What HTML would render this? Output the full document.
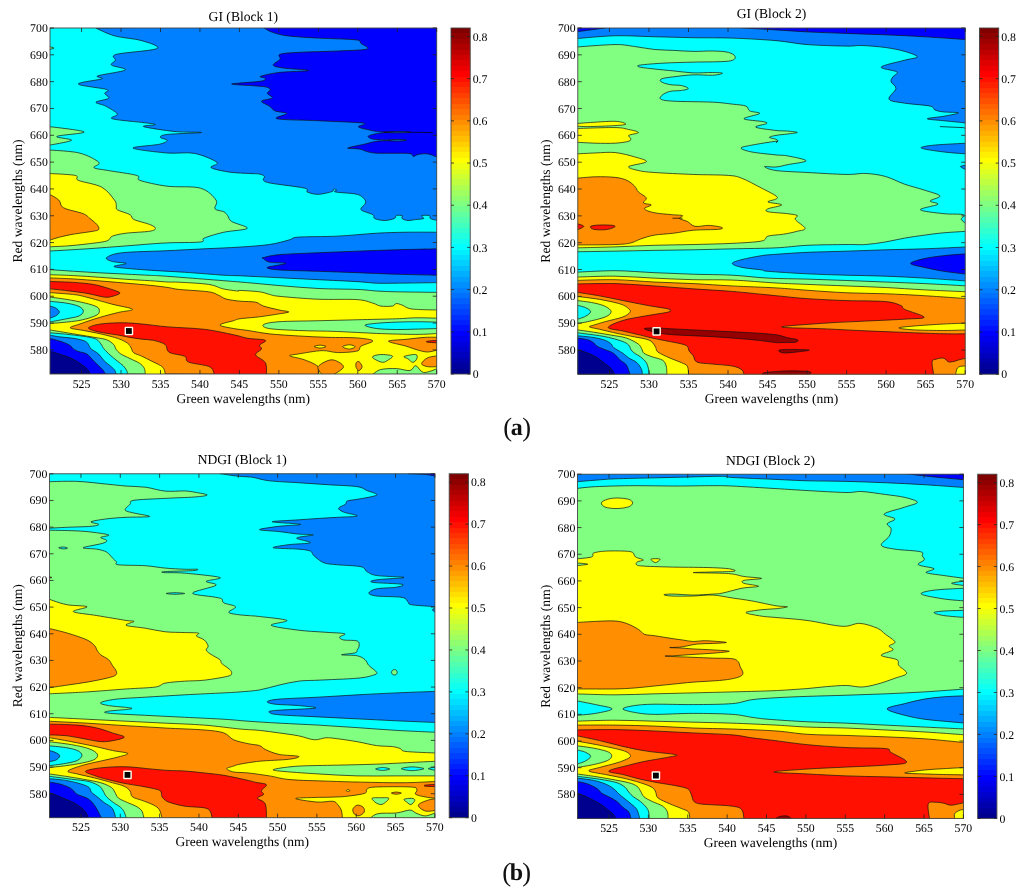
<!DOCTYPE html>
<html><head><meta charset="utf-8"><style>
html,body{margin:0;padding:0;background:#fff;width:1024px;height:891px;overflow:hidden;}
svg text{font-family:'Liberation Serif', serif;text-rendering:geometricPrecision;}
svg{filter:blur(0.45px);}
</style></head><body>
<svg width="1024" height="891" viewBox="0 0 1024 891" style="position:absolute;left:0;top:0"><defs><linearGradient id="jetgrad" x1="0" y1="1" x2="0" y2="0"><stop offset="0.00000" stop-color="#00008F"/><stop offset="0.01562" stop-color="#00008F"/><stop offset="0.01562" stop-color="#00009F"/><stop offset="0.03125" stop-color="#00009F"/><stop offset="0.03125" stop-color="#0000AF"/><stop offset="0.04688" stop-color="#0000AF"/><stop offset="0.04688" stop-color="#0000BF"/><stop offset="0.06250" stop-color="#0000BF"/><stop offset="0.06250" stop-color="#0000CF"/><stop offset="0.07812" stop-color="#0000CF"/><stop offset="0.07812" stop-color="#0000DF"/><stop offset="0.09375" stop-color="#0000DF"/><stop offset="0.09375" stop-color="#0000EF"/><stop offset="0.10938" stop-color="#0000EF"/><stop offset="0.10938" stop-color="#0000FF"/><stop offset="0.12500" stop-color="#0000FF"/><stop offset="0.12500" stop-color="#0010FF"/><stop offset="0.14062" stop-color="#0010FF"/><stop offset="0.14062" stop-color="#0020FF"/><stop offset="0.15625" stop-color="#0020FF"/><stop offset="0.15625" stop-color="#0030FF"/><stop offset="0.17188" stop-color="#0030FF"/><stop offset="0.17188" stop-color="#0040FF"/><stop offset="0.18750" stop-color="#0040FF"/><stop offset="0.18750" stop-color="#0050FF"/><stop offset="0.20312" stop-color="#0050FF"/><stop offset="0.20312" stop-color="#0060FF"/><stop offset="0.21875" stop-color="#0060FF"/><stop offset="0.21875" stop-color="#0070FF"/><stop offset="0.23438" stop-color="#0070FF"/><stop offset="0.23438" stop-color="#0080FF"/><stop offset="0.25000" stop-color="#0080FF"/><stop offset="0.25000" stop-color="#008FFF"/><stop offset="0.26562" stop-color="#008FFF"/><stop offset="0.26562" stop-color="#009FFF"/><stop offset="0.28125" stop-color="#009FFF"/><stop offset="0.28125" stop-color="#00AFFF"/><stop offset="0.29688" stop-color="#00AFFF"/><stop offset="0.29688" stop-color="#00BFFF"/><stop offset="0.31250" stop-color="#00BFFF"/><stop offset="0.31250" stop-color="#00CFFF"/><stop offset="0.32812" stop-color="#00CFFF"/><stop offset="0.32812" stop-color="#00DFFF"/><stop offset="0.34375" stop-color="#00DFFF"/><stop offset="0.34375" stop-color="#00EFFF"/><stop offset="0.35938" stop-color="#00EFFF"/><stop offset="0.35938" stop-color="#00FFFF"/><stop offset="0.37500" stop-color="#00FFFF"/><stop offset="0.37500" stop-color="#10FFEF"/><stop offset="0.39062" stop-color="#10FFEF"/><stop offset="0.39062" stop-color="#20FFDF"/><stop offset="0.40625" stop-color="#20FFDF"/><stop offset="0.40625" stop-color="#30FFCF"/><stop offset="0.42188" stop-color="#30FFCF"/><stop offset="0.42188" stop-color="#40FFBF"/><stop offset="0.43750" stop-color="#40FFBF"/><stop offset="0.43750" stop-color="#50FFAF"/><stop offset="0.45312" stop-color="#50FFAF"/><stop offset="0.45312" stop-color="#60FF9F"/><stop offset="0.46875" stop-color="#60FF9F"/><stop offset="0.46875" stop-color="#70FF8F"/><stop offset="0.48438" stop-color="#70FF8F"/><stop offset="0.48438" stop-color="#80FF80"/><stop offset="0.50000" stop-color="#80FF80"/><stop offset="0.50000" stop-color="#8FFF70"/><stop offset="0.51562" stop-color="#8FFF70"/><stop offset="0.51562" stop-color="#9FFF60"/><stop offset="0.53125" stop-color="#9FFF60"/><stop offset="0.53125" stop-color="#AFFF50"/><stop offset="0.54688" stop-color="#AFFF50"/><stop offset="0.54688" stop-color="#BFFF40"/><stop offset="0.56250" stop-color="#BFFF40"/><stop offset="0.56250" stop-color="#CFFF30"/><stop offset="0.57812" stop-color="#CFFF30"/><stop offset="0.57812" stop-color="#DFFF20"/><stop offset="0.59375" stop-color="#DFFF20"/><stop offset="0.59375" stop-color="#EFFF10"/><stop offset="0.60938" stop-color="#EFFF10"/><stop offset="0.60938" stop-color="#FFFF00"/><stop offset="0.62500" stop-color="#FFFF00"/><stop offset="0.62500" stop-color="#FFEF00"/><stop offset="0.64062" stop-color="#FFEF00"/><stop offset="0.64062" stop-color="#FFDF00"/><stop offset="0.65625" stop-color="#FFDF00"/><stop offset="0.65625" stop-color="#FFCF00"/><stop offset="0.67188" stop-color="#FFCF00"/><stop offset="0.67188" stop-color="#FFBF00"/><stop offset="0.68750" stop-color="#FFBF00"/><stop offset="0.68750" stop-color="#FFAF00"/><stop offset="0.70312" stop-color="#FFAF00"/><stop offset="0.70312" stop-color="#FF9F00"/><stop offset="0.71875" stop-color="#FF9F00"/><stop offset="0.71875" stop-color="#FF8F00"/><stop offset="0.73438" stop-color="#FF8F00"/><stop offset="0.73438" stop-color="#FF8000"/><stop offset="0.75000" stop-color="#FF8000"/><stop offset="0.75000" stop-color="#FF7000"/><stop offset="0.76562" stop-color="#FF7000"/><stop offset="0.76562" stop-color="#FF6000"/><stop offset="0.78125" stop-color="#FF6000"/><stop offset="0.78125" stop-color="#FF5000"/><stop offset="0.79688" stop-color="#FF5000"/><stop offset="0.79688" stop-color="#FF4000"/><stop offset="0.81250" stop-color="#FF4000"/><stop offset="0.81250" stop-color="#FF3000"/><stop offset="0.82812" stop-color="#FF3000"/><stop offset="0.82812" stop-color="#FF2000"/><stop offset="0.84375" stop-color="#FF2000"/><stop offset="0.84375" stop-color="#FF1000"/><stop offset="0.85938" stop-color="#FF1000"/><stop offset="0.85938" stop-color="#FF0000"/><stop offset="0.87500" stop-color="#FF0000"/><stop offset="0.87500" stop-color="#EF0000"/><stop offset="0.89062" stop-color="#EF0000"/><stop offset="0.89062" stop-color="#DF0000"/><stop offset="0.90625" stop-color="#DF0000"/><stop offset="0.90625" stop-color="#CF0000"/><stop offset="0.92188" stop-color="#CF0000"/><stop offset="0.92188" stop-color="#BF0000"/><stop offset="0.93750" stop-color="#BF0000"/><stop offset="0.93750" stop-color="#AF0000"/><stop offset="0.95312" stop-color="#AF0000"/><stop offset="0.95312" stop-color="#9F0000"/><stop offset="0.96875" stop-color="#9F0000"/><stop offset="0.96875" stop-color="#8F0000"/><stop offset="0.98438" stop-color="#8F0000"/><stop offset="0.98438" stop-color="#800000"/><stop offset="1.00000" stop-color="#800000"/></linearGradient></defs><defs><clipPath id="clip1"><rect x="50" y="28" width="386.70" height="346.00"/></clipPath></defs><g clip-path="url(#clip1)"><rect x="50" y="28" width="386.70" height="346.00" fill="#00FFFF"/><path d="M95.90,28.00C95.90,28.00 106.80,33.70 114.45,35.81C122.10,37.93 134.70,38.58 141.80,40.70C148.89,42.81 161.26,46.23 157.03,48.51C152.80,50.79 123.34,52.41 116.41,54.37C109.47,56.32 116.24,58.44 115.43,60.23C114.62,62.02 109.90,63.48 111.52,65.11C113.15,66.74 127.47,68.20 125.20,69.99C122.92,71.78 101.76,74.39 97.85,75.85C93.95,77.32 105.01,77.41 101.76,78.78C98.50,80.15 77.51,82.26 78.32,84.05C79.13,85.85 102.25,87.96 106.64,89.52C111.04,91.09 104.36,91.96 104.69,93.43C105.01,94.89 110.06,96.85 108.59,98.31C107.13,99.78 96.39,100.92 95.90,102.22C95.41,103.52 102.08,104.17 105.66,106.12C109.24,108.08 116.24,111.82 117.38,113.94C118.52,116.05 107.94,117.36 112.50,118.82C117.06,120.29 137.57,121.75 144.73,122.73C151.89,123.70 155.63,124.03 155.47,124.68C155.31,125.33 140.49,125.49 143.75,126.63C147.01,127.77 165.40,130.54 175.00,131.52C184.60,132.49 202.67,132.00 201.37,132.49C200.07,132.98 174.02,133.63 167.19,134.45C160.35,135.26 160.35,136.40 160.35,137.38C160.35,138.35 167.35,139.17 167.19,140.30C167.02,141.44 165.07,142.91 159.38,144.21C153.68,145.51 131.71,146.65 133.01,148.12C134.31,149.58 156.93,152.12 167.19,153.00C177.44,153.88 186.23,151.83 194.53,153.39C202.83,154.95 214.23,160.00 216.99,162.38C219.76,164.75 209.02,166.02 211.13,167.65C213.25,169.28 223.21,171.16 229.69,172.14C236.17,173.12 245.03,173.19 250.00,173.51C254.97,173.83 257.13,173.57 259.53,174.05C261.93,174.53 263.76,175.35 264.41,176.39C265.07,177.43 262.30,179.16 263.44,180.30C264.58,181.44 264.41,181.92 271.25,183.23C278.09,184.53 298.43,186.64 304.45,188.11C310.48,189.57 305.10,190.97 307.38,192.02C309.66,193.06 314.06,194.42 318.12,194.36C322.19,194.29 329.19,192.50 331.80,191.62C334.40,190.75 332.94,189.35 333.75,189.09C334.56,188.83 336.35,189.57 336.68,190.06C337.01,190.55 332.29,191.30 335.70,192.02C339.12,192.73 352.30,193.02 357.19,194.36C362.07,195.69 363.70,198.43 365.00,200.02C366.30,201.61 365.65,202.28 365.00,203.91C364.35,205.53 359.79,207.98 361.09,209.77C362.40,211.56 370.53,213.18 372.81,214.65C375.09,216.11 372.81,217.58 374.77,218.55C376.72,219.53 381.28,220.51 384.53,220.51C387.79,220.51 392.34,219.37 394.30,218.55C396.25,217.74 394.95,216.11 396.25,215.62C397.55,215.14 401.13,215.14 402.11,215.62C403.09,216.11 401.13,217.74 402.11,218.55C403.09,219.37 405.69,220.35 407.97,220.51C410.25,220.67 413.18,219.86 415.78,219.53C418.39,219.21 422.62,219.21 423.59,218.55C424.57,217.90 420.66,216.11 421.64,215.62C422.62,215.14 427.99,215.14 429.45,215.62C430.92,216.11 429.13,217.74 430.43,218.55C431.73,219.37 437.27,220.51 437.27,220.51C437.27,220.51 440.00,24.00 440.00,24.00C440.00,24.00 95.90,28.00 95.90,28.00Z" fill="#0080FF" stroke="#111" stroke-width="0.7" stroke-linejoin="round"/><path d="M264.41,27.95C264.41,27.95 267.51,30.56 271.25,31.86C274.99,33.16 279.06,34.72 286.88,35.77C294.69,36.81 310.31,37.62 318.12,38.11C325.94,38.60 327.24,38.37 333.75,38.70C340.26,39.02 352.63,39.25 357.19,40.06C361.74,40.88 359.47,42.08 361.09,43.58C362.72,45.08 370.86,47.81 366.95,49.05C363.05,50.28 349.05,50.45 337.66,51.00C326.26,51.55 308.20,51.81 298.59,52.37C288.99,52.92 283.13,53.18 280.04,54.32C276.95,55.46 281.18,57.41 280.04,59.20C278.90,60.99 272.71,63.60 273.20,65.06C273.69,66.53 277.11,67.08 282.97,67.99C288.83,68.90 309.01,69.78 308.36,70.53C307.71,71.28 287.04,71.51 279.06,72.48C271.09,73.46 262.79,75.41 260.51,76.39C258.23,77.37 265.23,77.56 265.39,78.34C265.55,79.12 265.72,80.30 261.48,81.08C257.25,81.86 244.98,82.54 240.00,83.03C235.02,83.52 231.60,83.68 231.60,84.01C231.60,84.33 234.69,84.56 240.00,84.98C245.31,85.41 258.39,85.80 263.44,86.55C268.48,87.30 269.62,88.34 270.27,89.48C270.92,90.62 267.02,91.98 267.34,93.38C267.67,94.78 273.20,96.57 272.23,97.88C271.25,99.18 261.97,99.83 261.48,101.20C261.00,102.56 267.02,104.45 269.30,106.08C271.58,107.71 272.23,109.72 275.16,110.96C278.09,112.20 286.55,112.20 286.88,113.50C287.20,114.80 271.90,117.57 277.11,118.77C282.32,119.98 304.45,120.08 318.12,120.73C331.80,121.38 351.43,122.11 359.14,122.68C366.86,123.25 364.51,123.43 364.41,124.16C364.32,124.90 356.93,125.95 358.55,127.09C360.18,128.23 369.95,130.18 374.18,131.00C378.41,131.81 377.92,131.76 383.95,131.97C389.97,132.18 410.31,132.15 410.31,132.27C410.31,132.38 390.78,132.10 383.95,132.66C377.11,133.21 371.58,134.64 369.30,135.59C367.02,136.53 368.65,137.62 370.27,138.32C371.90,139.02 373.20,139.43 379.06,139.79C384.92,140.14 405.43,140.26 405.43,140.47C405.43,140.68 385.90,140.44 379.06,141.05C372.23,141.67 369.62,143.01 364.41,144.18C359.21,145.35 348.63,147.27 347.81,148.09C347.00,148.90 355.14,148.25 359.53,149.06C363.93,149.88 366.04,152.24 374.18,152.97C382.32,153.70 401.85,152.89 408.36,153.46C414.87,154.03 411.61,156.22 413.24,156.39C414.87,156.55 415.68,154.84 418.12,154.43C420.57,154.03 424.47,153.38 427.89,153.95C431.31,154.51 438.63,157.85 438.63,157.85C438.63,157.85 440.00,24.00 440.00,24.00C440.00,24.00 260.00,24.00 260.00,24.00C260.00,24.00 264.41,27.95 264.41,27.95Z" fill="#0000FF" stroke="#111" stroke-width="0.7" stroke-linejoin="round"/><polyline points="410.3,132.3 432.8,132.5" fill="none" stroke="#000" stroke-width="0.7"/><path d="M388.83,140.08C390.13,139.88 395.66,139.57 398.59,139.59C401.52,139.61 406.41,139.93 406.41,140.18C406.41,140.42 401.20,140.96 398.59,141.05C395.99,141.15 392.41,140.92 390.78,140.76C389.15,140.60 387.53,140.27 388.83,140.08Z" fill="#0080FF" stroke="#111" stroke-width="0.7" stroke-linejoin="round"/><path d="M383.95,132.27C383.95,132.07 394.20,131.70 398.59,131.68C402.99,131.66 410.31,131.97 410.31,132.17C410.31,132.36 402.99,132.84 398.59,132.85C394.20,132.87 383.95,132.46 383.95,132.27Z" fill="#0080FF" stroke="#111" stroke-width="0.7" stroke-linejoin="round"/><path d="M49.02,46.55C49.02,46.55 53.91,47.63 53.91,48.12C53.91,48.61 49.02,49.48 49.02,49.48C49.02,49.48 49.02,46.55 49.02,46.55Z" fill="#80FF80" stroke="#111" stroke-width="0.7" stroke-linejoin="round"/><path d="M49.02,126.63C49.02,126.63 82.88,130.28 84.18,131.91C85.48,133.53 58.95,135.00 56.84,136.40C54.72,137.80 72.79,138.84 71.48,140.30C70.18,141.77 49.02,145.19 49.02,145.19C49.02,145.19 49.02,126.63 49.02,126.63Z" fill="#80FF80" stroke="#111" stroke-width="0.7" stroke-linejoin="round"/><path d="M49.02,150.07C49.02,150.07 71.00,150.95 79.30,153.00C87.60,155.05 96.39,159.93 98.83,162.38C101.27,164.82 92.32,166.28 93.95,167.65C95.57,169.02 101.43,169.28 108.59,170.58C115.76,171.88 131.71,173.83 136.91,175.46C142.12,177.09 134.80,178.55 139.84,180.34C144.89,182.13 157.10,184.90 167.19,186.20C177.28,187.51 192.25,185.85 200.39,188.16C208.53,190.47 213.58,196.63 216.02,200.07C218.45,203.51 213.70,206.85 214.99,208.79C216.29,210.73 221.67,210.58 223.78,211.72C225.90,212.86 226.39,214.00 227.69,215.62C228.99,217.25 228.34,219.37 231.59,221.48C234.85,223.60 248.52,226.53 247.22,228.32C245.92,230.11 230.94,230.60 223.78,232.23C216.62,233.85 208.16,236.46 204.25,238.09C200.34,239.71 206.85,241.18 200.34,241.99C193.83,242.81 177.56,242.32 165.19,242.97C152.82,243.62 139.15,244.92 126.12,245.90C113.10,246.88 100.25,247.95 87.06,248.83C73.88,249.71 47.02,251.17 47.02,251.17C47.02,251.17 49.02,150.07 49.02,150.07Z" fill="#80FF80" stroke="#111" stroke-width="0.7" stroke-linejoin="round"/><path d="M49.02,173.51C49.02,173.51 70.51,174.32 75.39,175.46C80.27,176.60 73.93,178.39 78.32,180.34C82.71,182.30 95.74,183.89 101.76,187.18C107.78,190.47 112.02,196.96 114.45,200.07C116.89,203.18 115.88,204.24 116.36,205.86C116.84,207.48 115.06,208.30 117.34,209.77C119.61,211.23 127.26,213.02 130.03,214.65C132.80,216.28 130.68,217.90 133.94,219.53C137.19,221.16 145.98,222.95 149.56,224.41C153.14,225.88 155.42,227.18 155.42,228.32C155.42,229.46 154.45,230.44 149.56,231.25C144.68,232.06 132.31,232.39 126.12,233.20C119.94,234.02 115.71,234.83 112.45,236.13C109.20,237.43 110.83,239.71 106.59,241.02C102.36,242.32 93.57,243.13 87.06,243.95C80.55,244.76 74.20,245.41 67.53,245.90C60.86,246.39 47.02,246.88 47.02,246.88C47.02,246.88 49.02,173.51 49.02,173.51Z" fill="#FFFF00" stroke="#111" stroke-width="0.7" stroke-linejoin="round"/><path d="M49.02,194.02C49.02,194.02 56.36,197.77 58.79,200.07C61.22,202.37 59.56,205.55 63.62,207.81C67.69,210.08 78.76,211.88 83.16,213.67C87.55,215.46 87.71,216.76 89.99,218.55C92.27,220.35 95.36,222.62 96.83,224.41C98.29,226.20 99.43,228.16 98.78,229.30C98.13,230.44 97.15,230.44 92.92,231.25C88.69,232.06 78.92,233.20 73.39,234.18C67.86,235.16 64.11,235.97 59.72,237.11C55.32,238.25 47.02,241.02 47.02,241.02C47.02,241.02 49.02,194.02 49.02,194.02Z" fill="#FF8F00" stroke="#111" stroke-width="0.7" stroke-linejoin="round"/><path d="M106.59,257.62C108.22,256.15 112.45,253.87 122.22,252.73C131.98,251.60 151.52,251.43 165.19,250.78C178.86,250.13 191.78,249.45 204.25,248.83C216.72,248.21 229.15,247.79 239.99,247.07C250.83,246.35 261.16,245.70 269.30,244.53C277.44,243.36 283.95,241.28 288.83,240.04C293.71,238.80 290.46,237.76 298.59,237.11C306.73,236.46 324.64,236.78 337.66,236.13C350.68,235.48 365.33,233.85 376.72,233.20C388.11,232.55 395.92,232.39 406.02,232.23C416.11,232.06 437.27,232.23 437.27,232.23C437.27,232.23 437.27,282.62 437.27,282.62C437.27,282.62 406.34,283.11 396.25,283.20C386.16,283.30 383.23,283.46 376.72,283.20C370.21,282.94 366.95,282.23 357.19,281.64C347.42,281.05 331.15,280.34 318.12,279.69C305.10,279.04 292.08,278.39 279.06,277.73C266.04,277.08 249.21,276.20 240.00,275.78C230.79,275.36 232.99,275.78 223.78,275.20C214.57,274.61 197.74,273.14 184.72,272.27C171.70,271.39 157.38,270.83 145.66,269.92C133.94,269.01 117.66,267.87 114.41,266.80C111.15,265.72 126.45,264.36 126.12,263.48C125.80,262.60 115.71,262.50 112.45,261.52C109.20,260.55 104.97,259.08 106.59,257.62Z" fill="#0080FF" stroke="#111" stroke-width="0.7" stroke-linejoin="round"/><path d="M263.44,257.62C266.04,256.97 269.95,255.50 279.06,254.69C288.18,253.87 305.10,253.32 318.12,252.73C331.15,252.15 344.17,251.66 357.19,251.17C370.21,250.68 382.90,250.20 396.25,249.80C409.60,249.41 437.27,248.83 437.27,248.83C437.27,248.83 437.27,275.20 437.27,275.20C437.27,275.20 409.60,274.64 396.25,274.22C382.90,273.80 370.21,273.14 357.19,272.66C344.17,272.17 331.15,271.74 318.12,271.29C305.10,270.83 287.53,270.57 279.06,269.92C270.60,269.27 266.20,268.46 267.34,267.38C268.48,266.31 285.57,264.36 285.90,263.48C286.22,262.60 273.04,262.92 269.30,262.11C265.55,261.30 264.41,259.34 263.44,258.59C262.46,257.85 260.83,258.27 263.44,257.62Z" fill="#0000FF" stroke="#111" stroke-width="0.7" stroke-linejoin="round"/><path d="M49.28,269.59C49.28,269.59 65.27,270.72 73.59,271.26C81.90,271.79 90.64,272.32 99.17,272.79C107.70,273.26 116.23,273.65 124.76,274.07C133.28,274.50 143.13,274.97 150.34,275.35C157.55,275.73 153.05,275.26 167.99,276.37C182.94,277.49 221.49,280.50 240.00,282.03C258.51,283.56 266.04,284.47 279.06,285.55C292.08,286.62 305.10,287.83 318.12,288.48C331.15,289.13 347.42,289.03 357.19,289.45C366.95,289.88 370.21,290.62 376.72,291.02C383.23,291.41 386.16,291.57 396.25,291.80C406.34,292.02 437.27,292.38 437.27,292.38C437.27,292.38 437.27,375.78 437.27,375.78C437.27,375.78 240.00,375.78 240.00,375.78C240.00,375.78 47.02,375.78 47.02,375.78C47.02,375.78 49.28,269.59 49.28,269.59Z" fill="#80FF80" stroke="#111" stroke-width="0.7" stroke-linejoin="round"/><path d="M49.28,274.71C49.28,274.71 65.27,275.18 73.59,275.61C81.90,276.03 90.64,276.67 99.17,277.27C107.70,277.87 116.23,278.61 124.76,279.19C133.28,279.76 143.13,280.25 150.34,280.72C157.55,281.19 163.18,281.75 167.99,282.00C172.81,282.25 172.49,281.83 179.25,282.23C186.01,282.62 201.22,283.27 208.55,284.38C215.87,285.48 218.31,287.76 223.20,288.87C228.08,289.97 235.04,290.76 237.84,291.02C240.64,291.28 236.39,290.30 240.00,290.43C243.61,290.56 254.65,291.15 259.53,291.80C264.41,292.45 266.04,293.59 269.30,294.34C272.55,295.08 270.92,295.48 279.06,296.29C287.20,297.10 305.10,298.67 318.12,299.22C331.15,299.77 348.07,298.96 357.19,299.61C366.30,300.26 368.91,302.05 372.81,303.12C376.72,304.20 377.37,305.57 380.62,306.05C383.88,306.54 389.74,306.48 392.34,306.05C394.95,305.63 394.62,303.68 396.25,303.52C397.88,303.35 399.51,304.17 402.11,305.08C404.71,305.99 406.02,308.17 411.88,308.98C417.73,309.80 437.27,309.96 437.27,309.96C437.27,309.96 437.27,375.78 437.27,375.78C437.27,375.78 240.00,375.78 240.00,375.78C240.00,375.78 47.02,375.78 47.02,375.78C47.02,375.78 49.28,274.71 49.28,274.71Z" fill="#FFFF00" stroke="#111" stroke-width="0.7" stroke-linejoin="round"/><path d="M49.28,277.91C49.28,277.91 65.27,278.44 73.59,278.93C81.90,279.42 90.64,280.17 99.17,280.85C107.70,281.53 116.23,282.28 124.76,283.03C133.28,283.77 143.13,284.58 150.34,285.33C157.55,286.08 163.18,286.82 167.99,287.50C172.81,288.19 172.49,288.74 179.25,289.45C186.01,290.17 201.97,290.82 208.55,291.80C215.12,292.77 215.77,294.11 218.70,295.31C221.63,296.52 222.58,298.05 226.12,299.02C229.67,300.00 235.08,300.65 239.99,301.17C244.91,301.69 251.72,301.33 255.62,302.15C259.53,302.96 259.53,304.75 263.44,306.05C267.34,307.36 274.83,308.98 279.06,309.96C283.29,310.94 288.83,311.26 288.83,311.91C288.83,312.57 283.95,313.05 279.06,313.87C274.18,314.68 266.04,315.98 259.53,316.80C253.02,317.61 244.33,318.10 240.00,318.75C235.67,319.40 236.90,319.66 233.55,320.70C230.19,321.74 219.88,323.70 219.88,325.00C219.88,326.30 228.86,327.60 233.55,328.52C238.23,329.43 242.04,329.58 248.00,330.47C253.96,331.35 260.86,332.91 269.30,333.83C277.73,334.75 288.83,335.39 298.59,335.98C308.36,336.56 318.12,337.02 327.89,337.34C337.66,337.67 349.70,337.34 357.19,337.93C364.67,338.52 372.16,339.49 372.81,340.86C373.46,342.23 363.70,344.44 361.09,346.13C358.49,347.83 361.09,349.94 357.19,351.02C353.28,352.09 343.52,352.64 337.66,352.58C331.80,352.51 328.54,350.40 322.03,350.62C315.52,350.85 303.96,353.07 298.59,353.95C293.22,354.82 288.83,354.92 289.80,355.90C290.78,356.88 299.73,358.01 304.45,359.80C309.17,361.60 315.85,364.20 318.12,366.64C320.40,369.08 318.12,374.45 318.12,374.45C318.12,374.45 165.19,374.00 165.19,374.00C165.19,374.00 164.80,370.49 164.02,369.08C163.24,367.67 162.65,366.93 160.50,365.56C158.36,364.20 154.25,362.44 151.13,360.88C148.00,359.31 144.68,357.56 141.75,356.19C138.82,354.82 135.31,354.04 133.55,352.67C131.79,351.31 132.18,349.55 131.21,347.99C130.23,346.42 129.84,344.86 127.69,343.30C125.54,341.74 122.81,340.17 118.32,338.61C113.82,337.05 106.60,335.29 100.74,333.92C94.88,332.56 88.24,331.42 83.16,330.41C78.08,329.39 70.80,328.90 70.27,327.83C69.74,326.75 75.16,325.67 79.98,323.96C84.80,322.25 92.77,319.49 99.17,317.57C105.57,315.65 112.82,313.84 118.36,312.45C123.90,311.06 133.50,310.64 132.43,309.25C131.37,307.87 119.64,306.16 111.96,304.13C104.29,302.11 92.77,298.70 86.38,297.10C79.98,295.50 79.77,295.29 73.59,294.54C67.40,293.79 49.28,292.62 49.28,292.62C49.28,292.62 49.28,277.91 49.28,277.91Z" fill="#FF8F00" stroke="#111" stroke-width="0.7" stroke-linejoin="round"/><path d="M49.28,281.49C49.28,281.49 66.34,281.92 73.59,282.39C80.83,282.86 87.44,283.45 92.77,284.31C98.10,285.16 101.52,286.33 105.57,287.50C109.62,288.68 114.73,290.34 117.08,291.34C119.43,292.34 120.49,292.66 119.64,293.52C118.79,294.37 114.52,295.86 111.96,296.46C109.40,297.06 108.55,297.63 104.29,297.10C100.02,296.57 92.56,294.33 86.38,293.26C80.19,292.19 73.37,291.45 67.19,290.70C61.01,289.96 49.28,288.78 49.28,288.78C49.28,288.78 49.28,281.49 49.28,281.49Z" fill="#FF1000" stroke="#111" stroke-width="0.7" stroke-linejoin="round"/><path d="M88.43,328.06C88.43,327.09 91.85,325.91 94.88,325.13C97.90,324.35 101.71,323.77 106.60,323.38C111.48,322.98 118.32,322.69 124.17,322.79C130.03,322.89 134.45,323.28 141.75,323.96C149.06,324.64 157.59,326.00 168.00,326.89C178.42,327.78 193.33,327.98 204.25,329.30C215.17,330.61 226.25,333.26 233.55,334.77C240.84,336.27 242.70,337.40 248.01,338.32C253.32,339.24 263.47,339.13 265.39,340.27C267.31,341.41 260.18,343.69 259.53,345.16C258.88,346.62 262.14,347.43 261.48,349.06C260.83,350.69 254.97,352.64 255.62,354.92C256.28,357.20 263.60,359.48 265.39,362.73C267.18,365.99 266.37,374.45 266.37,374.45C266.37,374.45 214.02,375.78 214.02,375.78C214.02,375.78 214.34,369.27 210.11,366.99C205.88,364.71 192.86,363.90 188.62,362.11C184.39,360.32 187.97,357.88 184.72,356.25C181.46,354.62 172.35,354.30 169.09,352.34C165.84,350.39 167.79,346.53 165.19,344.53C162.58,342.54 157.38,341.26 153.47,340.37C149.57,339.48 145.66,339.68 141.75,339.20C137.85,338.71 133.94,338.12 130.03,337.44C126.13,336.75 122.22,335.78 118.32,335.09C114.41,334.41 110.50,334.02 106.60,333.34C102.69,332.65 97.90,331.87 94.88,330.99C91.85,330.11 88.43,329.04 88.43,328.06Z" fill="#FF1000" stroke="#111" stroke-width="0.7" stroke-linejoin="round"/><path d="M49.41,297.07C49.41,297.07 60.80,298.40 66.85,299.43C72.90,300.45 80.67,301.94 85.70,303.20C90.73,304.45 94.73,305.63 97.01,306.97C99.29,308.30 99.52,309.79 99.37,311.21C99.21,312.62 99.13,313.96 96.07,315.45C93.00,316.94 86.64,318.98 80.99,320.16C75.33,321.34 67.40,321.97 62.14,322.52C56.88,323.07 49.41,323.46 49.41,323.46C49.41,323.46 49.41,297.07 49.41,297.07Z" fill="#80FF80" stroke="#111" stroke-width="0.7" stroke-linejoin="round"/><path d="M49.41,301.31C49.41,301.31 61.90,302.33 66.85,303.20C71.80,304.06 76.35,305.16 79.10,306.49C81.85,307.83 83.34,309.64 83.34,311.21C83.34,312.78 81.85,314.66 79.10,315.92C76.35,317.18 71.80,317.73 66.85,318.75C61.90,319.77 49.41,322.05 49.41,322.05C49.41,322.05 49.41,301.31 49.41,301.31Z" fill="#00FFFF" stroke="#111" stroke-width="0.7" stroke-linejoin="round"/><path d="M49.41,306.02C49.41,306.02 53.89,306.97 55.54,307.91C57.19,308.85 59.15,310.42 59.31,311.68C59.47,312.93 58.13,314.35 56.48,315.45C54.83,316.55 49.41,318.28 49.41,318.28C49.41,318.28 49.41,306.02 49.41,306.02Z" fill="#0080FF" stroke="#111" stroke-width="0.7" stroke-linejoin="round"/><path d="M49.17,329.82C49.17,329.82 55.03,330.80 59.72,331.58C64.41,332.36 71.44,333.53 77.30,334.51C83.16,335.49 89.99,336.56 94.88,337.44C99.76,338.32 103.47,338.61 106.60,339.78C109.72,340.95 112.07,342.91 113.63,344.47C115.19,346.03 114.80,347.60 115.97,349.16C117.14,350.72 118.32,352.28 120.66,353.85C123.00,355.41 126.91,356.97 130.03,358.53C133.16,360.10 137.07,361.66 139.41,363.22C141.75,364.78 143.12,366.11 144.10,367.91C145.07,369.71 145.27,374.00 145.27,374.00C145.27,374.00 49.17,374.00 49.17,374.00C49.17,374.00 49.17,329.82 49.17,329.82Z" fill="#80FF80" stroke="#111" stroke-width="0.7" stroke-linejoin="round"/><path d="M49.17,332.75C49.17,332.75 59.91,333.57 65.58,334.16C71.24,334.74 78.27,335.52 83.16,336.27C88.04,337.01 92.14,337.63 94.88,338.61C97.61,339.59 98.39,340.95 99.56,342.13C100.74,343.30 101.13,344.47 101.91,345.64C102.69,346.81 102.88,347.60 104.25,349.16C105.62,350.72 107.96,353.06 110.11,355.02C112.26,356.97 114.99,359.12 117.14,360.88C119.29,362.63 121.44,364.00 123.00,365.56C124.57,367.13 125.74,368.85 126.52,370.25C127.30,371.66 127.69,374.00 127.69,374.00C127.69,374.00 49.17,374.00 49.17,374.00C49.17,374.00 49.17,332.75 49.17,332.75Z" fill="#00FFFF" stroke="#111" stroke-width="0.7" stroke-linejoin="round"/><path d="M49.17,335.09C49.17,335.09 56.01,336.36 59.72,336.85C63.43,337.34 67.92,337.54 71.44,338.02C74.95,338.51 78.27,339.10 80.81,339.78C83.35,340.47 85.31,341.15 86.67,342.13C88.04,343.10 88.24,344.47 89.02,345.64C89.80,346.81 89.80,347.79 91.36,349.16C92.92,350.52 96.24,351.89 98.39,353.85C100.54,355.80 102.10,358.73 104.25,360.88C106.40,363.03 109.53,365.17 111.28,366.74C113.04,368.30 114.02,369.04 114.80,370.25C115.58,371.46 115.97,374.00 115.97,374.00C115.97,374.00 49.17,374.00 49.17,374.00C49.17,374.00 49.17,335.09 49.17,335.09Z" fill="#0080FF" stroke="#111" stroke-width="0.7" stroke-linejoin="round"/><path d="M49.17,338.38C49.17,338.38 52.49,339.06 55.03,339.78C57.57,340.50 61.87,341.74 64.41,342.71C66.95,343.69 68.70,344.57 70.27,345.64C71.83,346.72 72.42,348.18 73.78,349.16C75.15,350.13 76.32,350.72 78.47,351.50C80.62,352.28 84.33,352.48 86.67,353.85C89.02,355.21 90.58,357.75 92.53,359.70C94.49,361.66 96.63,363.81 98.39,365.56C100.15,367.32 101.91,368.85 103.08,370.25C104.25,371.66 105.42,374.00 105.42,374.00C105.42,374.00 49.17,374.00 49.17,374.00C49.17,374.00 49.17,338.38 49.17,338.38Z" fill="#0000FF" stroke="#111" stroke-width="0.7" stroke-linejoin="round"/><path d="M49.17,351.27C49.17,351.27 52.88,352.05 55.03,352.67C57.18,353.30 59.72,354.24 62.06,355.02C64.41,355.80 66.75,356.38 69.09,357.36C71.44,358.34 73.78,359.51 76.13,360.88C78.47,362.24 81.20,364.10 83.16,365.56C85.11,367.03 86.67,368.26 87.85,369.67C89.02,371.07 90.19,374.00 90.19,374.00C90.19,374.00 49.17,374.00 49.17,374.00C49.17,374.00 49.17,351.27 49.17,351.27Z" fill="#00008F" stroke="#111" stroke-width="0.7" stroke-linejoin="round"/><path d="M263.44,324.65C265.07,323.51 269.95,322.37 279.06,321.72C288.18,321.07 305.10,321.07 318.12,320.74C331.15,320.42 344.17,320.09 357.19,319.77C370.21,319.44 386.48,319.11 396.25,318.79C406.02,318.46 408.95,317.91 415.78,317.81C422.62,317.71 437.27,318.20 437.27,318.20C437.27,318.20 437.27,333.44 437.27,333.44C437.27,333.44 425.87,334.41 415.78,334.41C405.69,334.41 389.74,333.93 376.72,333.44C363.70,332.95 350.68,331.97 337.66,331.48C324.64,331.00 309.99,331.00 298.59,330.51C287.20,330.02 275.16,329.53 269.30,328.55C263.44,327.58 261.81,325.79 263.44,324.65Z" fill="#80FF80" stroke="#111" stroke-width="0.7" stroke-linejoin="round"/><path d="M365.00,325.23C365.00,324.36 371.51,323.80 376.72,323.28C381.93,322.76 389.74,322.37 396.25,322.11C402.76,321.85 408.95,321.72 415.78,321.72C422.62,321.72 437.27,322.11 437.27,322.11C437.27,322.11 437.27,328.55 437.27,328.55C437.27,328.55 422.62,328.98 415.78,329.14C408.95,329.30 402.76,329.63 396.25,329.53C389.74,329.43 381.93,329.27 376.72,328.55C371.51,327.84 365.00,326.11 365.00,325.23Z" fill="#00FFFF" stroke="#111" stroke-width="0.7" stroke-linejoin="round"/><path d="M388.44,341.25C388.44,340.11 399.83,339.95 406.02,339.30C412.20,338.65 420.34,337.67 425.55,337.34C430.76,337.02 437.27,337.34 437.27,337.34C437.27,337.34 437.27,350.04 437.27,350.04C437.27,350.04 430.76,351.99 427.50,351.99C424.24,351.99 421.32,351.02 417.73,350.04C414.15,349.06 410.90,347.60 406.02,346.13C401.13,344.67 388.44,342.39 388.44,341.25Z" fill="#FF8F00" stroke="#111" stroke-width="0.7" stroke-linejoin="round"/><path d="M421.64,363.71C421.64,362.25 424.90,359.15 427.50,357.85C430.10,356.55 437.27,355.90 437.27,355.90C437.27,355.90 437.27,366.64 437.27,366.64C437.27,366.64 430.10,367.13 427.50,366.64C424.90,366.15 421.64,365.18 421.64,363.71Z" fill="#FF8F00" stroke="#111" stroke-width="0.7" stroke-linejoin="round"/><path d="M318.12,366.64C319.75,364.20 327.57,359.80 331.80,359.80C336.03,359.80 343.19,364.20 343.52,366.64C343.84,369.08 333.75,374.45 333.75,374.45C333.75,374.45 322.03,374.45 322.03,374.45C322.03,374.45 316.50,369.08 318.12,366.64Z" fill="#FF8F00" stroke="#111" stroke-width="0.7" stroke-linejoin="round"/><path d="M356.21,362.73C356.70,361.76 358.16,361.11 359.14,361.76C360.12,362.41 362.07,365.18 362.07,366.64C362.07,368.11 360.12,370.38 359.14,370.55C358.16,370.71 356.70,368.92 356.21,367.62C355.72,366.32 355.72,363.71 356.21,362.73Z" fill="#FF8F00" stroke="#111" stroke-width="0.7" stroke-linejoin="round"/><path d="M314.22,346.52C314.22,346.04 318.12,345.16 320.08,345.16C322.03,345.16 325.94,346.04 325.94,346.52C325.94,347.01 322.03,348.09 320.08,348.09C318.12,348.09 314.22,347.01 314.22,346.52Z" fill="#FFFF00" stroke="#111" stroke-width="0.7" stroke-linejoin="round"/><path d="M342.54,346.72C342.54,346.00 347.26,344.77 349.38,344.77C351.49,344.77 355.23,346.00 355.23,346.72C355.23,347.43 351.49,349.06 349.38,349.06C347.26,349.06 342.54,347.43 342.54,346.72Z" fill="#FFFF00" stroke="#111" stroke-width="0.7" stroke-linejoin="round"/><path d="M372.81,356.48C373.79,355.70 377.37,354.63 380.62,354.53C383.88,354.43 391.04,355.02 392.34,355.90C393.65,356.78 390.07,358.73 388.44,359.80C386.81,360.88 384.86,362.44 382.58,362.34C380.30,362.25 376.39,360.20 374.77,359.22C373.14,358.24 371.84,357.27 372.81,356.48Z" fill="#80FF80" stroke="#111" stroke-width="0.7" stroke-linejoin="round"/><path d="M404.06,356.48C405.36,355.77 413.67,354.14 415.78,354.53C417.90,354.92 417.25,357.53 416.76,358.83C416.27,360.13 414.32,362.34 412.85,362.34C411.39,362.34 409.43,359.80 407.97,358.83C406.50,357.85 402.76,357.20 404.06,356.48Z" fill="#80FF80" stroke="#111" stroke-width="0.7" stroke-linejoin="round"/><path d="M372.81,374.45C372.81,374.45 376.72,370.55 380.62,369.57C384.53,368.59 391.37,368.43 396.25,368.59C401.13,368.76 406.67,371.04 409.92,370.55C413.18,370.06 413.50,365.34 415.78,365.66C418.06,365.99 420.01,372.01 423.59,372.50C427.17,372.99 437.27,368.59 437.27,368.59C437.27,368.59 437.27,374.45 437.27,374.45C437.27,374.45 372.81,374.45 372.81,374.45Z" fill="#80FF80" stroke="#111" stroke-width="0.7" stroke-linejoin="round"/><path d="M427.50,341.25C429.13,340.92 437.27,340.27 437.27,340.27C437.27,340.27 437.27,342.81 437.27,342.81C437.27,342.81 429.13,342.49 427.50,342.23C425.87,341.97 425.87,341.58 427.50,341.25Z" fill="#FF1000" stroke="#111" stroke-width="0.7" stroke-linejoin="round"/></g><rect x="50" y="28" width="386.70" height="346.00" fill="none" stroke="#444" stroke-width="0.9"/><line x1="81.57" y1="374.0" x2="81.57" y2="370.0" stroke="#222" stroke-width="0.8"/><line x1="81.57" y1="28" x2="81.57" y2="32" stroke="#222" stroke-width="0.8"/><text x="81.57" y="388.00" font-size="11.8" text-anchor="middle" fill="#000">525</text><line x1="121.03" y1="374.0" x2="121.03" y2="370.0" stroke="#222" stroke-width="0.8"/><line x1="121.03" y1="28" x2="121.03" y2="32" stroke="#222" stroke-width="0.8"/><text x="121.03" y="388.00" font-size="11.8" text-anchor="middle" fill="#000">530</text><line x1="160.49" y1="374.0" x2="160.49" y2="370.0" stroke="#222" stroke-width="0.8"/><line x1="160.49" y1="28" x2="160.49" y2="32" stroke="#222" stroke-width="0.8"/><text x="160.49" y="388.00" font-size="11.8" text-anchor="middle" fill="#000">535</text><line x1="199.94" y1="374.0" x2="199.94" y2="370.0" stroke="#222" stroke-width="0.8"/><line x1="199.94" y1="28" x2="199.94" y2="32" stroke="#222" stroke-width="0.8"/><text x="199.94" y="388.00" font-size="11.8" text-anchor="middle" fill="#000">540</text><line x1="239.40" y1="374.0" x2="239.40" y2="370.0" stroke="#222" stroke-width="0.8"/><line x1="239.40" y1="28" x2="239.40" y2="32" stroke="#222" stroke-width="0.8"/><text x="239.40" y="388.00" font-size="11.8" text-anchor="middle" fill="#000">545</text><line x1="278.86" y1="374.0" x2="278.86" y2="370.0" stroke="#222" stroke-width="0.8"/><line x1="278.86" y1="28" x2="278.86" y2="32" stroke="#222" stroke-width="0.8"/><text x="278.86" y="388.00" font-size="11.8" text-anchor="middle" fill="#000">550</text><line x1="318.32" y1="374.0" x2="318.32" y2="370.0" stroke="#222" stroke-width="0.8"/><line x1="318.32" y1="28" x2="318.32" y2="32" stroke="#222" stroke-width="0.8"/><text x="318.32" y="388.00" font-size="11.8" text-anchor="middle" fill="#000">555</text><line x1="357.78" y1="374.0" x2="357.78" y2="370.0" stroke="#222" stroke-width="0.8"/><line x1="357.78" y1="28" x2="357.78" y2="32" stroke="#222" stroke-width="0.8"/><text x="357.78" y="388.00" font-size="11.8" text-anchor="middle" fill="#000">560</text><line x1="397.24" y1="374.0" x2="397.24" y2="370.0" stroke="#222" stroke-width="0.8"/><line x1="397.24" y1="28" x2="397.24" y2="32" stroke="#222" stroke-width="0.8"/><text x="397.24" y="388.00" font-size="11.8" text-anchor="middle" fill="#000">565</text><line x1="436.70" y1="374.0" x2="436.70" y2="370.0" stroke="#222" stroke-width="0.8"/><line x1="436.70" y1="28" x2="436.70" y2="32" stroke="#222" stroke-width="0.8"/><text x="436.70" y="388.00" font-size="11.8" text-anchor="middle" fill="#000">570</text><line x1="50" y1="349.86" x2="54" y2="349.86" stroke="#222" stroke-width="0.8"/><line x1="436.7" y1="349.86" x2="432.7" y2="349.86" stroke="#222" stroke-width="0.8"/><text x="47.80" y="353.86" font-size="11.8" text-anchor="end" fill="#000">580</text><line x1="50" y1="323.04" x2="54" y2="323.04" stroke="#222" stroke-width="0.8"/><line x1="436.7" y1="323.04" x2="432.7" y2="323.04" stroke="#222" stroke-width="0.8"/><text x="47.80" y="327.04" font-size="11.8" text-anchor="end" fill="#000">590</text><line x1="50" y1="296.22" x2="54" y2="296.22" stroke="#222" stroke-width="0.8"/><line x1="436.7" y1="296.22" x2="432.7" y2="296.22" stroke="#222" stroke-width="0.8"/><text x="47.80" y="300.22" font-size="11.8" text-anchor="end" fill="#000">600</text><line x1="50" y1="269.40" x2="54" y2="269.40" stroke="#222" stroke-width="0.8"/><line x1="436.7" y1="269.40" x2="432.7" y2="269.40" stroke="#222" stroke-width="0.8"/><text x="47.80" y="273.40" font-size="11.8" text-anchor="end" fill="#000">610</text><line x1="50" y1="242.57" x2="54" y2="242.57" stroke="#222" stroke-width="0.8"/><line x1="436.7" y1="242.57" x2="432.7" y2="242.57" stroke="#222" stroke-width="0.8"/><text x="47.80" y="246.57" font-size="11.8" text-anchor="end" fill="#000">620</text><line x1="50" y1="215.75" x2="54" y2="215.75" stroke="#222" stroke-width="0.8"/><line x1="436.7" y1="215.75" x2="432.7" y2="215.75" stroke="#222" stroke-width="0.8"/><text x="47.80" y="219.75" font-size="11.8" text-anchor="end" fill="#000">630</text><line x1="50" y1="188.93" x2="54" y2="188.93" stroke="#222" stroke-width="0.8"/><line x1="436.7" y1="188.93" x2="432.7" y2="188.93" stroke="#222" stroke-width="0.8"/><text x="47.80" y="192.93" font-size="11.8" text-anchor="end" fill="#000">640</text><line x1="50" y1="162.11" x2="54" y2="162.11" stroke="#222" stroke-width="0.8"/><line x1="436.7" y1="162.11" x2="432.7" y2="162.11" stroke="#222" stroke-width="0.8"/><text x="47.80" y="166.11" font-size="11.8" text-anchor="end" fill="#000">650</text><line x1="50" y1="135.29" x2="54" y2="135.29" stroke="#222" stroke-width="0.8"/><line x1="436.7" y1="135.29" x2="432.7" y2="135.29" stroke="#222" stroke-width="0.8"/><text x="47.80" y="139.29" font-size="11.8" text-anchor="end" fill="#000">660</text><line x1="50" y1="108.47" x2="54" y2="108.47" stroke="#222" stroke-width="0.8"/><line x1="436.7" y1="108.47" x2="432.7" y2="108.47" stroke="#222" stroke-width="0.8"/><text x="47.80" y="112.47" font-size="11.8" text-anchor="end" fill="#000">670</text><line x1="50" y1="81.64" x2="54" y2="81.64" stroke="#222" stroke-width="0.8"/><line x1="436.7" y1="81.64" x2="432.7" y2="81.64" stroke="#222" stroke-width="0.8"/><text x="47.80" y="85.64" font-size="11.8" text-anchor="end" fill="#000">680</text><line x1="50" y1="54.82" x2="54" y2="54.82" stroke="#222" stroke-width="0.8"/><line x1="436.7" y1="54.82" x2="432.7" y2="54.82" stroke="#222" stroke-width="0.8"/><text x="47.80" y="58.82" font-size="11.8" text-anchor="end" fill="#000">690</text><line x1="50" y1="28.00" x2="54" y2="28.00" stroke="#222" stroke-width="0.8"/><line x1="436.7" y1="28.00" x2="432.7" y2="28.00" stroke="#222" stroke-width="0.8"/><text x="47.80" y="32.00" font-size="11.8" text-anchor="end" fill="#000">700</text><text x="243.35" y="20.80" font-size="13.6" text-anchor="middle" fill="#000">GI (Block 1)</text><text x="243.35" y="402.50" font-size="13.5" text-anchor="middle" fill="#000">Green wavelengths (nm)</text><text x="0" y="0" transform="translate(22.00,201.00) rotate(-90)" font-size="13.6" text-anchor="middle" fill="#000">Red wavelengths (nm)</text><rect x="451.00" y="28" width="19.20" height="346.00" fill="url(#jetgrad)"/><rect x="451.00" y="28" width="19.20" height="346.00" fill="none" stroke="#444" stroke-width="0.9"/><line x1="451.00" y1="374.00" x2="454.00" y2="374.00" stroke="#222" stroke-width="0.8"/><line x1="470.20" y1="374.00" x2="467.20" y2="374.00" stroke="#222" stroke-width="0.8"/><text x="472.70" y="378.10" font-size="11.8" fill="#000">0</text><line x1="451.00" y1="331.80" x2="454.00" y2="331.80" stroke="#222" stroke-width="0.8"/><line x1="470.20" y1="331.80" x2="467.20" y2="331.80" stroke="#222" stroke-width="0.8"/><text x="472.70" y="335.90" font-size="11.8" fill="#000">0.1</text><line x1="451.00" y1="289.61" x2="454.00" y2="289.61" stroke="#222" stroke-width="0.8"/><line x1="470.20" y1="289.61" x2="467.20" y2="289.61" stroke="#222" stroke-width="0.8"/><text x="472.70" y="293.71" font-size="11.8" fill="#000">0.2</text><line x1="451.00" y1="247.41" x2="454.00" y2="247.41" stroke="#222" stroke-width="0.8"/><line x1="470.20" y1="247.41" x2="467.20" y2="247.41" stroke="#222" stroke-width="0.8"/><text x="472.70" y="251.51" font-size="11.8" fill="#000">0.3</text><line x1="451.00" y1="205.22" x2="454.00" y2="205.22" stroke="#222" stroke-width="0.8"/><line x1="470.20" y1="205.22" x2="467.20" y2="205.22" stroke="#222" stroke-width="0.8"/><text x="472.70" y="209.32" font-size="11.8" fill="#000">0.4</text><line x1="451.00" y1="163.02" x2="454.00" y2="163.02" stroke="#222" stroke-width="0.8"/><line x1="470.20" y1="163.02" x2="467.20" y2="163.02" stroke="#222" stroke-width="0.8"/><text x="472.70" y="167.12" font-size="11.8" fill="#000">0.5</text><line x1="451.00" y1="120.83" x2="454.00" y2="120.83" stroke="#222" stroke-width="0.8"/><line x1="470.20" y1="120.83" x2="467.20" y2="120.83" stroke="#222" stroke-width="0.8"/><text x="472.70" y="124.93" font-size="11.8" fill="#000">0.6</text><line x1="451.00" y1="78.63" x2="454.00" y2="78.63" stroke="#222" stroke-width="0.8"/><line x1="470.20" y1="78.63" x2="467.20" y2="78.63" stroke="#222" stroke-width="0.8"/><text x="472.70" y="82.73" font-size="11.8" fill="#000">0.7</text><line x1="451.00" y1="36.44" x2="454.00" y2="36.44" stroke="#222" stroke-width="0.8"/><line x1="470.20" y1="36.44" x2="467.20" y2="36.44" stroke="#222" stroke-width="0.8"/><text x="472.70" y="40.54" font-size="11.8" fill="#000">0.8</text><rect x="124.60" y="326.70" width="8.6" height="8.6" rx="1" fill="#FFFFF2"/><rect x="126.00" y="328.10" width="5.8" height="5.8" fill="#000"/><defs><clipPath id="clip2"><rect x="577.8" y="28" width="387.40" height="346.20"/></clipPath></defs><g clip-path="url(#clip2)"><rect x="577.8" y="28" width="387.40" height="346.20" fill="#80FF80"/><path d="M576.00,26.00C576.00,26.00 576.00,47.09 576.00,47.09C576.00,47.09 605.30,44.65 615.06,44.55C624.83,44.46 628.08,45.69 634.59,46.51C641.10,47.32 647.61,48.79 654.12,49.44C660.64,50.09 667.15,50.09 673.66,50.41C680.17,50.74 686.68,51.29 693.19,51.39C699.70,51.49 706.86,50.84 712.72,51.00C718.58,51.16 724.60,51.39 728.34,52.37C732.09,53.34 735.18,55.39 735.18,56.86C735.18,58.32 735.34,60.28 728.34,61.16C721.35,62.04 703.93,61.81 693.19,62.13C682.45,62.46 672.68,62.62 663.89,63.11C655.10,63.60 644.52,64.41 640.45,65.06C636.38,65.71 637.20,66.36 639.48,67.02C641.76,67.67 648.43,68.32 654.12,68.97C659.82,69.62 667.15,70.27 673.66,70.92C680.17,71.57 686.68,72.61 693.19,72.88C699.70,73.14 707.84,72.42 712.72,72.48C717.60,72.55 722.48,72.81 722.48,73.27C722.48,73.72 717.60,74.96 712.72,75.22C707.84,75.48 699.70,74.57 693.19,74.83C686.68,75.09 678.86,76.13 673.66,76.78C668.45,77.43 664.05,77.92 661.94,78.73C659.82,79.55 659.66,80.69 660.96,81.66C662.26,82.64 666.33,83.94 669.75,84.59C673.17,85.24 678.38,84.92 681.47,85.57C684.56,86.22 688.30,87.69 688.30,88.50C688.30,89.31 684.56,89.96 681.47,90.45C678.38,90.94 673.01,90.62 669.75,91.43C666.49,92.24 663.40,94.03 661.94,95.34C660.47,96.64 659.01,98.27 660.96,99.24C662.91,100.22 665.03,100.71 673.66,101.20C682.28,101.68 702.95,101.68 712.72,102.17C722.48,102.66 726.72,103.47 732.25,104.12C737.78,104.78 742.99,104.94 745.92,106.08C748.85,107.22 747.55,109.72 749.83,110.96C752.11,112.20 760.57,112.20 759.59,113.50C758.62,114.80 743.32,117.41 743.97,118.77C744.62,120.14 759.76,120.89 763.50,121.70C767.24,122.52 767.73,122.74 766.43,123.66C765.13,124.57 754.09,126.03 755.69,127.17C757.28,128.31 770.69,129.84 776.00,130.49C781.31,131.14 783.98,130.75 787.53,131.08C791.08,131.40 797.30,131.96 797.30,132.45C797.30,132.93 791.08,133.52 787.53,134.01C783.98,134.50 779.04,134.82 776.01,135.38C772.98,135.93 769.36,136.68 769.36,137.33C769.36,137.98 774.61,138.70 776.01,139.28C777.41,139.87 777.77,140.32 777.77,140.84C777.77,141.36 776.30,142.34 776.01,142.41C775.71,142.47 780.04,140.78 776.00,141.23C771.96,141.69 757.61,144.00 751.78,145.14C745.95,146.28 741.04,146.93 741.04,148.07C741.04,149.21 745.95,150.84 751.78,151.98C757.61,153.12 770.04,154.26 776.00,154.91C781.96,155.56 782.52,154.91 787.53,155.88C792.55,156.86 806.09,159.30 806.09,160.77C806.09,162.23 792.54,163.63 787.53,164.67C782.52,165.71 779.85,166.69 776.01,167.02C772.17,167.34 764.48,166.04 764.48,166.62C764.48,167.21 768.90,169.55 776.00,170.53C783.10,171.51 795.38,171.83 807.06,172.48C818.75,173.14 836.36,174.27 846.12,174.44C855.89,174.60 859.15,173.14 865.66,173.46C872.17,173.79 878.68,174.60 885.19,176.39C891.70,178.18 898.21,181.92 904.72,184.20C911.23,186.48 918.39,188.11 924.25,190.06C930.11,192.02 938.90,194.10 939.88,195.92C940.85,197.74 930.43,199.58 930.11,200.98C929.78,202.37 939.55,202.83 937.92,204.30C936.29,205.76 919.37,208.20 920.34,209.77C921.32,211.33 936.62,212.86 943.78,213.67C950.94,214.49 960.38,213.67 963.31,214.65C966.24,215.62 960.71,217.90 961.36,219.53C962.01,221.16 967.22,224.41 967.22,224.41C967.22,224.41 970.00,20.00 970.00,20.00C970.00,20.00 576.00,26.00 576.00,26.00Z" fill="#00FFFF" stroke="#111" stroke-width="0.7" stroke-linejoin="round"/><path d="M576.00,26.00C576.00,26.00 576.00,38.70 576.00,38.70C576.00,38.70 602.04,36.09 615.06,35.77C628.08,35.44 641.10,36.42 654.12,36.74C667.15,37.07 680.17,37.49 693.19,37.72C706.21,37.95 718.45,37.62 732.25,38.11C746.05,38.60 763.53,39.57 776.00,40.65C788.47,41.72 795.38,43.64 807.06,44.55C818.75,45.47 837.01,45.95 846.12,46.12C855.24,46.28 855.24,45.30 861.75,45.53C868.26,45.76 878.03,46.51 885.19,47.48C892.35,48.46 899.35,49.83 904.72,51.39C910.09,52.95 917.41,55.39 917.41,56.86C917.41,58.32 910.74,58.49 904.72,60.18C898.70,61.87 882.58,65.06 881.28,67.02C879.98,68.97 894.95,70.27 896.91,71.90C898.86,73.53 893.98,75.15 893.00,76.78C892.02,78.41 890.56,79.71 891.05,81.66C891.54,83.62 896.26,85.57 895.93,88.50C895.60,91.43 887.63,96.80 889.09,99.24C890.56,101.68 897.88,102.01 904.72,103.15C911.55,104.29 925.06,104.94 930.11,106.08C935.15,107.22 932.71,109.01 934.99,109.98C937.27,110.96 939.88,111.45 943.78,111.94C947.69,112.43 958.43,112.20 958.43,112.91C958.43,113.63 948.99,115.26 943.78,116.23C938.57,117.21 927.18,118.02 927.18,118.77C927.18,119.52 937.76,120.08 943.78,120.73C949.80,121.38 959.41,122.19 963.31,122.68C967.22,123.17 967.22,123.66 967.22,123.66C967.22,123.66 970.00,20.00 970.00,20.00C970.00,20.00 576.00,26.00 576.00,26.00Z" fill="#0080FF" stroke="#111" stroke-width="0.7" stroke-linejoin="round"/><polyline points="939.9,126.6 963.3,127.6 966.2,128.5" fill="none" stroke="#000" stroke-width="0.7"/><path d="M921.32,148.07C919.69,146.93 926.37,145.95 934.02,145.14C941.67,144.33 967.22,143.19 967.22,143.19C967.22,143.19 967.22,153.93 967.22,153.93C967.22,153.93 951.43,152.95 943.78,151.98C936.13,151.00 922.95,149.21 921.32,148.07Z" fill="#0080FF" stroke="#111" stroke-width="0.7" stroke-linejoin="round"/><path d="M960.38,166.62C960.38,165.78 967.22,165.06 967.22,165.06C967.22,165.06 967.22,170.14 967.22,170.14C967.22,170.14 960.38,167.47 960.38,166.62Z" fill="#0080FF" stroke="#111" stroke-width="0.7" stroke-linejoin="round"/><path d="M742.02,26.00C742.02,26.00 742.02,27.95 742.02,27.95C742.02,27.95 765.16,29.26 776.00,29.91C786.84,30.56 795.38,31.27 807.06,31.86C818.75,32.45 833.10,32.93 846.12,33.42C859.15,33.91 872.17,34.24 885.19,34.79C898.21,35.34 910.58,35.93 924.25,36.74C937.92,37.56 967.22,39.67 967.22,39.67C967.22,39.67 967.22,26.00 967.22,26.00C967.22,26.00 742.02,26.00 742.02,26.00Z" fill="#0000FF" stroke="#111" stroke-width="0.7" stroke-linejoin="round"/><path d="M576.00,26.00C576.00,26.00 605.30,27.95 605.30,27.95C605.30,27.95 576.00,31.86 576.00,31.86C576.00,31.86 576.00,26.00 576.00,26.00Z" fill="#0000FF" stroke="#111" stroke-width="0.7" stroke-linejoin="round"/><path d="M576.00,123.66C576.00,123.66 581.21,123.07 587.72,122.68C594.23,122.29 608.71,121.08 615.06,121.31C621.41,121.54 625.80,123.33 625.80,124.05C625.80,124.76 621.41,125.19 615.06,125.61C608.71,126.03 594.23,126.52 587.72,126.59C581.21,126.65 576.00,126.00 576.00,126.00C576.00,126.00 576.00,123.66 576.00,123.66Z" fill="#FFFF00" stroke="#111" stroke-width="0.7" stroke-linejoin="round"/><path d="M576.00,128.54C576.00,128.54 606.27,127.40 615.06,127.56C623.85,127.73 624.83,128.70 628.73,129.52C632.64,130.33 638.50,131.47 638.50,132.45C638.50,133.42 630.04,134.40 628.73,135.38C627.43,136.35 630.69,137.33 630.69,138.30C630.69,139.28 631.34,140.42 628.73,141.23C626.13,142.05 620.60,142.86 615.06,143.19C609.53,143.51 602.04,143.35 595.53,143.19C589.02,143.02 576.00,142.21 576.00,142.21C576.00,142.21 576.00,128.54 576.00,128.54Z" fill="#FFFF00" stroke="#111" stroke-width="0.7" stroke-linejoin="round"/><path d="M576.00,153.93C576.00,153.93 589.02,153.18 595.53,152.95C602.04,152.73 608.55,151.91 615.06,152.56C621.57,153.21 629.39,155.33 634.59,156.86C639.80,158.39 647.29,160.11 646.31,161.74C645.34,163.37 630.04,165.16 628.73,166.62C627.43,168.09 634.27,169.55 638.50,170.53C642.73,171.51 645.01,171.83 654.12,172.48C663.24,173.14 680.82,173.95 693.19,174.44C705.56,174.93 720.21,174.76 728.34,175.41C736.48,176.07 736.48,176.23 742.02,178.34C747.55,180.46 755.88,185.18 761.55,188.11C767.21,191.04 773.59,194.10 776.00,195.92C778.41,197.74 777.34,198.02 776.01,199.02C774.67,200.03 767.06,200.98 768.00,201.95C768.94,202.93 781.67,203.74 781.67,204.88C781.67,206.02 770.28,207.65 768.00,208.79C765.72,209.93 764.74,210.90 768.00,211.72C771.26,212.53 782.65,213.02 787.53,213.67C792.41,214.32 795.99,214.65 797.30,215.62C798.60,216.60 794.04,217.42 795.34,219.53C796.65,221.65 804.78,226.37 805.11,228.32C805.43,230.27 800.88,230.27 797.30,231.25C793.72,232.23 788.51,233.37 783.62,234.18C778.74,234.99 771.68,234.99 768.00,236.13C764.32,237.27 767.51,239.81 761.55,241.02C755.59,242.22 743.64,242.77 732.25,243.36C720.86,243.95 706.21,244.21 693.19,244.53C680.17,244.86 667.15,244.92 654.12,245.31C641.10,245.70 628.08,246.45 615.06,246.88C602.04,247.30 576.00,247.85 576.00,247.85C576.00,247.85 576.00,153.93 576.00,153.93Z" fill="#FFFF00" stroke="#111" stroke-width="0.7" stroke-linejoin="round"/><path d="M576.00,178.34C576.00,178.34 589.02,176.94 595.53,176.78C602.04,176.62 609.85,176.78 615.06,177.37C620.27,177.95 623.53,178.83 626.78,180.30C630.04,181.76 632.64,184.20 634.59,186.16C636.55,188.11 636.55,190.06 638.50,192.02C640.45,193.97 645.50,196.06 646.31,197.88C647.13,199.69 642.57,201.76 643.38,202.93C644.20,204.10 651.03,203.91 651.20,204.88C651.36,205.86 643.87,207.49 644.36,208.79C644.85,210.09 649.57,211.72 654.12,212.70C658.68,213.67 666.98,214.16 671.70,214.65C676.42,215.14 681.14,214.97 682.45,215.62C683.75,216.28 678.70,217.58 679.52,218.55C680.33,219.53 684.72,220.18 687.33,221.48C689.93,222.79 691.56,225.72 695.14,226.37C698.72,227.02 704.42,225.23 708.81,225.39C713.21,225.55 719.88,226.69 721.51,227.34C723.14,227.99 723.30,228.81 718.58,229.30C713.86,229.79 700.67,229.62 693.19,230.27C685.70,230.92 680.17,232.39 673.66,233.20C667.15,234.02 659.66,234.18 654.12,235.16C648.59,236.13 644.36,237.76 640.45,239.06C636.55,240.36 634.92,242.06 630.69,242.97C626.46,243.88 624.18,244.21 615.06,244.53C605.95,244.86 576.00,244.92 576.00,244.92C576.00,244.92 576.00,178.34 576.00,178.34Z" fill="#FF8F00" stroke="#111" stroke-width="0.7" stroke-linejoin="round"/><path d="M576.00,223.44C576.00,223.44 583.81,225.23 583.81,226.37C583.81,227.51 576.00,230.27 576.00,230.27C576.00,230.27 576.00,223.44 576.00,223.44Z" fill="#FF1000" stroke="#111" stroke-width="0.7" stroke-linejoin="round"/><polyline points="672.5,218.2 682.5,218.2" fill="none" stroke="#000" stroke-width="0.7"/><path d="M590.65,226.37C591.62,225.65 595.69,225.16 599.44,225.00C603.18,224.84 610.67,225.00 613.11,225.39C615.55,225.78 615.39,226.63 614.09,227.34C612.78,228.06 608.71,229.36 605.30,229.69C601.88,230.01 596.02,229.85 593.58,229.30C591.14,228.74 589.67,227.08 590.65,226.37Z" fill="#FF1000" stroke="#111" stroke-width="0.7" stroke-linejoin="round"/><path d="M576.00,251.76C576.00,251.76 602.04,251.40 615.06,251.17C628.08,250.94 641.10,250.62 654.12,250.39C667.15,250.16 680.17,250.07 693.19,249.80C706.21,249.54 718.45,249.15 732.25,248.83C746.05,248.50 763.53,248.44 776.00,247.85C788.47,247.27 795.38,245.87 807.06,245.31C818.75,244.76 836.36,244.66 846.12,244.53C855.89,244.40 859.15,244.95 865.66,244.53C872.17,244.11 878.68,243.07 885.19,241.99C891.70,240.92 898.21,239.23 904.72,238.09C911.23,236.95 917.74,236.04 924.25,235.16C930.76,234.28 936.62,233.46 943.78,232.81C950.94,232.16 967.22,231.25 967.22,231.25C967.22,231.25 967.22,285.94 967.22,285.94C967.22,285.94 937.92,284.24 924.25,283.59C910.58,282.94 898.21,282.55 885.19,282.03C872.17,281.51 859.15,280.96 846.12,280.47C833.10,279.98 820.08,279.49 807.06,279.10C794.04,278.71 780.47,278.78 768.00,278.12C755.53,277.47 744.72,275.85 732.25,275.20C719.78,274.54 706.21,274.64 693.19,274.22C680.17,273.80 667.15,273.24 654.12,272.66C641.10,272.07 628.08,270.77 615.06,270.70C602.04,270.64 576.00,272.27 576.00,272.27C576.00,272.27 576.00,251.76 576.00,251.76Z" fill="#00FFFF" stroke="#111" stroke-width="0.7" stroke-linejoin="round"/><path d="M732.25,263.48C732.25,262.17 737.13,260.87 742.02,259.57C746.90,258.27 755.88,256.54 761.55,255.66C767.21,254.79 768.41,254.85 776.00,254.30C783.59,253.74 795.38,252.86 807.06,252.34C818.75,251.82 833.10,251.60 846.12,251.17C859.15,250.75 872.17,250.20 885.19,249.80C898.21,249.41 910.58,249.32 924.25,248.83C937.92,248.34 967.22,246.88 967.22,246.88C967.22,246.88 967.22,281.05 967.22,281.05C967.22,281.05 937.92,278.94 924.25,278.12C910.58,277.31 898.21,276.66 885.19,276.17C872.17,275.68 859.15,275.59 846.12,275.20C833.10,274.80 820.08,274.48 807.06,273.83C794.04,273.18 775.59,271.94 768.00,271.29C760.41,270.64 765.88,270.57 761.55,269.92C757.22,269.27 746.90,268.46 742.02,267.38C737.13,266.31 732.25,264.78 732.25,263.48Z" fill="#0080FF" stroke="#111" stroke-width="0.7" stroke-linejoin="round"/><path d="M910.58,263.48C910.58,262.01 918.72,259.90 924.25,258.59C929.78,257.29 936.62,256.48 943.78,255.66C950.94,254.85 967.22,253.71 967.22,253.71C967.22,253.71 967.22,274.22 967.22,274.22C967.22,274.22 950.94,272.43 943.78,271.29C936.62,270.15 929.78,268.68 924.25,267.38C918.72,266.08 910.58,264.94 910.58,263.48Z" fill="#0000FF" stroke="#111" stroke-width="0.7" stroke-linejoin="round"/><path d="M576.00,277.15C576.00,277.15 602.04,276.01 615.06,276.17C628.08,276.33 641.10,277.54 654.12,278.12C667.15,278.71 680.17,279.36 693.19,279.69C706.21,280.01 718.45,279.52 732.25,280.08C746.05,280.63 763.53,282.29 776.00,283.01C788.47,283.72 795.38,283.89 807.06,284.38C818.75,284.86 833.10,285.42 846.12,285.94C859.15,286.46 872.17,286.85 885.19,287.50C898.21,288.15 910.58,289.13 924.25,289.84C937.92,290.56 967.22,291.80 967.22,291.80C967.22,291.80 967.22,375.78 967.22,375.78C967.22,375.78 576.00,375.78 576.00,375.78C576.00,375.78 576.00,277.15 576.00,277.15Z" fill="#FFFF00" stroke="#111" stroke-width="0.7" stroke-linejoin="round"/><path d="M576.00,280.47C576.00,280.47 602.04,279.43 615.06,279.69C628.08,279.95 641.10,281.38 654.12,282.03C667.15,282.68 680.17,282.94 693.19,283.59C706.21,284.24 718.45,285.22 732.25,285.94C746.05,286.65 763.53,287.17 776.00,287.89C788.47,288.61 795.38,289.42 807.06,290.23C818.75,291.05 833.10,292.19 846.12,292.77C859.15,293.36 872.17,293.26 885.19,293.75C898.21,294.24 910.58,294.89 924.25,295.70C937.92,296.52 967.22,298.63 967.22,298.63C967.22,298.63 967.22,375.78 967.22,375.78C967.22,375.78 688.50,374.38 688.50,374.38C688.50,374.38 688.50,368.13 687.33,366.17C686.16,364.22 684.40,364.03 681.47,362.66C678.54,361.29 673.66,359.73 669.75,357.97C665.85,356.21 660.38,353.87 658.03,352.11C655.69,350.35 656.67,349.08 655.69,347.42C654.71,345.76 653.74,343.52 652.17,342.15C650.61,340.78 649.25,340.10 646.32,339.22C643.39,338.34 639.48,337.85 634.60,336.88C629.71,335.90 622.88,334.63 617.02,333.36C611.16,332.09 604.03,330.33 599.44,329.26C594.85,328.19 590.45,327.60 589.48,326.92C588.50,326.23 590.94,326.04 593.58,325.16C596.22,324.28 600.42,323.01 605.30,321.64C610.18,320.27 618.78,318.52 622.88,316.95C626.98,315.39 628.93,313.63 629.91,312.27C630.88,310.90 630.30,310.12 628.74,308.75C627.17,307.38 625.42,305.63 620.53,304.06C615.65,302.50 606.67,300.64 599.44,299.38C592.21,298.11 577.17,296.45 577.17,296.45C577.17,296.45 576.00,280.47 576.00,280.47Z" fill="#FF8F00" stroke="#111" stroke-width="0.7" stroke-linejoin="round"/><path d="M576.00,283.98C576.00,283.98 602.04,283.27 615.06,283.59C628.08,283.92 641.10,285.06 654.12,285.94C667.15,286.82 680.17,287.96 693.19,288.87C706.21,289.78 718.45,290.27 732.25,291.41C746.05,292.55 763.53,294.50 776.00,295.70C788.47,296.91 795.38,297.82 807.06,298.63C818.75,299.45 833.10,300.10 846.12,300.59C859.15,301.07 876.07,300.75 885.19,301.56C894.30,302.38 897.56,304.17 900.81,305.47C904.07,306.77 900.81,307.42 904.72,309.38C908.62,311.33 924.25,315.56 924.25,317.19C924.25,318.82 914.48,318.49 904.72,319.14C894.95,319.79 878.68,320.44 865.66,321.09C852.64,321.74 840.59,322.07 826.59,323.05C812.60,324.02 781.67,325.98 781.67,326.95C781.67,327.93 812.60,328.26 826.59,328.91C840.59,329.56 852.64,330.27 865.66,330.86C878.68,331.45 891.70,331.93 904.72,332.42C917.74,332.91 933.36,333.56 943.78,333.79C954.20,334.02 967.22,333.79 967.22,333.79C967.22,333.79 967.22,375.78 967.22,375.78C967.22,375.78 743.97,375.78 743.97,375.78C743.97,375.78 743.97,371.55 742.02,369.92C740.06,368.29 737.13,366.99 732.25,366.02C727.37,365.04 718.58,364.71 712.72,364.06C706.86,363.41 700.35,363.52 697.09,362.11C693.84,360.70 694.53,357.49 693.19,355.63C691.86,353.77 690.07,352.50 689.09,350.94C688.11,349.38 688.60,347.42 687.33,346.25C686.06,345.08 684.40,344.69 681.47,343.91C678.54,343.13 674.64,342.54 669.75,341.56C664.87,340.59 657.06,339.12 652.17,338.05C647.29,336.97 645.34,336.29 640.46,335.12C635.57,333.95 628.25,332.29 622.88,331.02C617.51,329.75 608.23,329.26 608.23,327.50C608.23,325.74 616.53,322.42 622.88,320.47C629.22,318.52 638.89,317.15 646.32,315.78C653.74,314.42 663.41,313.15 667.41,312.27C671.41,311.39 670.34,311.09 670.34,310.51C670.34,309.92 671.41,309.63 667.41,308.75C663.41,307.87 653.74,306.60 646.32,305.23C638.89,303.87 630.69,302.11 622.88,300.55C615.06,298.98 607.06,297.23 599.44,295.86C591.82,294.49 577.17,292.34 577.17,292.34C577.17,292.34 576.00,283.98 576.00,283.98Z" fill="#FF1000" stroke="#111" stroke-width="0.7" stroke-linejoin="round"/><path d="M644.36,328.91C643.71,328.09 649.24,327.93 654.12,327.93C659.01,327.93 663.89,328.42 673.66,328.91C683.42,329.39 699.70,330.21 712.72,330.86C725.74,331.51 741.23,332.16 751.78,332.81C762.33,333.46 770.04,333.95 776.00,334.77C781.96,335.58 783.98,336.88 787.53,337.70C791.08,338.51 795.99,338.90 797.30,339.65C798.60,340.40 798.27,341.70 795.34,342.19C792.41,342.68 782.94,342.51 779.72,342.58C776.49,342.64 780.66,343.07 776.00,342.58C771.34,342.09 762.33,340.62 751.78,339.65C741.23,338.67 725.74,337.53 712.72,336.72C699.70,335.90 682.77,335.42 673.66,334.77C664.54,334.11 662.91,333.79 658.03,332.81C653.15,331.84 645.01,329.72 644.36,328.91Z" fill="#960000" stroke="#111" stroke-width="0.7" stroke-linejoin="round"/><path d="M778.74,350.39C779.39,349.80 782.49,349.48 787.53,349.41C792.58,349.35 807.39,349.58 809.02,350.00C810.64,350.42 801.53,351.46 797.30,351.95C793.07,352.44 786.72,353.19 783.62,352.93C780.53,352.67 778.09,350.98 778.74,350.39Z" fill="#960000" stroke="#111" stroke-width="0.7" stroke-linejoin="round"/><path d="M764.09,372.85C768.00,372.04 779.88,371.06 787.53,370.90C795.18,370.74 806.74,371.06 809.99,371.88C813.25,372.69 807.06,375.78 807.06,375.78C807.06,375.78 764.09,375.78 764.09,375.78C764.09,375.78 760.19,373.67 764.09,372.85Z" fill="#960000" stroke="#111" stroke-width="0.7" stroke-linejoin="round"/><path d="M898.86,327.93C898.86,327.28 907.00,326.63 914.48,325.98C921.97,325.33 934.99,324.51 943.78,324.02C952.57,323.54 967.22,323.05 967.22,323.05C967.22,323.05 967.22,329.88 967.22,329.88C967.22,329.88 952.57,330.47 943.78,330.47C934.99,330.47 921.97,330.31 914.48,329.88C907.00,329.46 898.86,328.58 898.86,327.93Z" fill="#FFFF00" stroke="#111" stroke-width="0.7" stroke-linejoin="round"/><path d="M932.06,362.11C932.39,359.34 934.02,359.83 935.97,359.18C937.92,358.53 941.50,357.71 943.78,358.20C946.06,358.69 946.71,361.95 949.64,362.11C952.57,362.27 958.43,359.83 961.36,359.18C964.29,358.53 967.22,358.20 967.22,358.20C967.22,358.20 967.22,375.78 967.22,375.78C967.22,375.78 934.02,375.78 934.02,375.78C934.02,375.78 931.74,364.88 932.06,362.11Z" fill="#FF8F00" stroke="#111" stroke-width="0.7" stroke-linejoin="round"/><path d="M957.45,367.97C958.76,366.34 961.68,366.18 963.31,366.02C964.94,365.85 967.22,366.99 967.22,366.99C967.22,366.99 967.22,375.78 967.22,375.78C967.22,375.78 955.50,375.78 955.50,375.78C955.50,375.78 956.15,369.60 957.45,367.97Z" fill="#FFFF00" stroke="#111" stroke-width="0.7" stroke-linejoin="round"/><path d="M577.17,300.55C577.17,300.55 588.89,301.91 593.58,302.89C598.27,303.87 602.37,304.94 605.30,306.41C608.23,307.87 611.16,309.92 611.16,311.68C611.16,313.44 609.20,315.29 605.30,316.95C601.39,318.61 592.41,320.57 587.72,321.64C583.03,322.72 577.17,323.40 577.17,323.40C577.17,323.40 577.17,300.55 577.17,300.55Z" fill="#80FF80" stroke="#111" stroke-width="0.7" stroke-linejoin="round"/><path d="M577.17,305.23C577.17,305.23 583.13,306.50 585.38,307.58C587.62,308.65 590.65,310.22 590.65,311.68C590.65,313.15 587.62,315.10 585.38,316.37C583.13,317.64 577.17,319.30 577.17,319.30C577.17,319.30 577.17,305.23 577.17,305.23Z" fill="#00FFFF" stroke="#111" stroke-width="0.7" stroke-linejoin="round"/><path d="M577.17,329.85C577.17,329.85 587.91,331.31 593.58,332.19C599.24,333.07 605.69,334.14 611.16,335.12C616.63,336.10 621.90,336.58 626.39,338.05C630.88,339.51 635.57,342.15 638.11,343.91C640.65,345.67 640.65,347.03 641.63,348.60C642.60,350.16 642.21,351.92 643.97,353.28C645.73,354.65 649.05,355.63 652.17,356.80C655.30,357.97 660.38,358.75 662.72,360.32C665.07,361.88 665.55,363.83 666.24,366.17C666.92,368.52 666.82,374.38 666.82,374.38C666.82,374.38 577.17,374.38 577.17,374.38C577.17,374.38 577.17,329.85 577.17,329.85Z" fill="#80FF80" stroke="#111" stroke-width="0.7" stroke-linejoin="round"/><path d="M577.17,332.78C577.17,332.78 593.77,334.83 599.44,335.70C605.10,336.58 607.25,337.07 611.16,338.05C615.06,339.03 619.95,340.39 622.88,341.56C625.81,342.74 627.37,343.71 628.74,345.08C630.10,346.45 630.10,348.40 631.08,349.77C632.06,351.14 633.03,352.11 634.60,353.28C636.16,354.46 638.50,355.24 640.46,356.80C642.41,358.36 644.95,360.51 646.32,362.66C647.68,364.81 648.17,367.74 648.66,369.69C649.15,371.64 649.25,374.38 649.25,374.38C649.25,374.38 577.17,374.38 577.17,374.38C577.17,374.38 577.17,332.78 577.17,332.78Z" fill="#00FFFF" stroke="#111" stroke-width="0.7" stroke-linejoin="round"/><path d="M577.17,335.70C577.17,335.70 588.89,336.68 593.58,337.46C598.27,338.24 602.37,339.32 605.30,340.39C608.23,341.47 609.79,342.74 611.16,343.91C612.52,345.08 611.55,345.86 613.50,347.42C615.45,348.99 620.34,351.53 622.88,353.28C625.42,355.04 626.39,356.41 628.74,357.97C631.08,359.53 634.79,360.71 636.94,362.66C639.09,364.61 640.75,367.74 641.63,369.69C642.51,371.64 642.21,374.38 642.21,374.38C642.21,374.38 577.17,374.38 577.17,374.38C577.17,374.38 577.17,335.70 577.17,335.70Z" fill="#0080FF" stroke="#111" stroke-width="0.7" stroke-linejoin="round"/><path d="M577.17,338.05C577.17,338.05 584.98,339.03 587.72,339.81C590.45,340.59 592.02,341.66 593.58,342.74C595.14,343.81 595.14,345.08 597.09,346.25C599.05,347.42 602.56,348.60 605.30,349.77C608.03,350.94 610.96,351.53 613.50,353.28C616.04,355.04 618.38,358.36 620.53,360.32C622.68,362.27 624.83,362.66 626.39,365.00C627.96,367.35 629.91,374.38 629.91,374.38C629.91,374.38 577.17,374.38 577.17,374.38C577.17,374.38 577.17,338.05 577.17,338.05Z" fill="#0000FF" stroke="#111" stroke-width="0.7" stroke-linejoin="round"/><path d="M577.17,349.77C577.17,349.77 582.64,351.14 585.38,352.11C588.11,353.09 591.23,354.46 593.58,355.63C595.92,356.80 597.49,357.78 599.44,359.14C601.39,360.51 603.34,362.27 605.30,363.83C607.25,365.39 609.60,366.76 611.16,368.52C612.72,370.28 614.67,374.38 614.67,374.38C614.67,374.38 577.17,374.38 577.17,374.38C577.17,374.38 577.17,349.77 577.17,349.77Z" fill="#00008F" stroke="#111" stroke-width="0.7" stroke-linejoin="round"/></g><rect x="577.8" y="28" width="387.40" height="346.20" fill="none" stroke="#444" stroke-width="0.9"/><line x1="609.42" y1="374.2" x2="609.42" y2="370.2" stroke="#222" stroke-width="0.8"/><line x1="609.42" y1="28" x2="609.42" y2="32" stroke="#222" stroke-width="0.8"/><text x="609.42" y="388.20" font-size="11.8" text-anchor="middle" fill="#000">525</text><line x1="648.96" y1="374.2" x2="648.96" y2="370.2" stroke="#222" stroke-width="0.8"/><line x1="648.96" y1="28" x2="648.96" y2="32" stroke="#222" stroke-width="0.8"/><text x="648.96" y="388.20" font-size="11.8" text-anchor="middle" fill="#000">530</text><line x1="688.49" y1="374.2" x2="688.49" y2="370.2" stroke="#222" stroke-width="0.8"/><line x1="688.49" y1="28" x2="688.49" y2="32" stroke="#222" stroke-width="0.8"/><text x="688.49" y="388.20" font-size="11.8" text-anchor="middle" fill="#000">535</text><line x1="728.02" y1="374.2" x2="728.02" y2="370.2" stroke="#222" stroke-width="0.8"/><line x1="728.02" y1="28" x2="728.02" y2="32" stroke="#222" stroke-width="0.8"/><text x="728.02" y="388.20" font-size="11.8" text-anchor="middle" fill="#000">540</text><line x1="767.55" y1="374.2" x2="767.55" y2="370.2" stroke="#222" stroke-width="0.8"/><line x1="767.55" y1="28" x2="767.55" y2="32" stroke="#222" stroke-width="0.8"/><text x="767.55" y="388.20" font-size="11.8" text-anchor="middle" fill="#000">545</text><line x1="807.08" y1="374.2" x2="807.08" y2="370.2" stroke="#222" stroke-width="0.8"/><line x1="807.08" y1="28" x2="807.08" y2="32" stroke="#222" stroke-width="0.8"/><text x="807.08" y="388.20" font-size="11.8" text-anchor="middle" fill="#000">550</text><line x1="846.61" y1="374.2" x2="846.61" y2="370.2" stroke="#222" stroke-width="0.8"/><line x1="846.61" y1="28" x2="846.61" y2="32" stroke="#222" stroke-width="0.8"/><text x="846.61" y="388.20" font-size="11.8" text-anchor="middle" fill="#000">555</text><line x1="886.14" y1="374.2" x2="886.14" y2="370.2" stroke="#222" stroke-width="0.8"/><line x1="886.14" y1="28" x2="886.14" y2="32" stroke="#222" stroke-width="0.8"/><text x="886.14" y="388.20" font-size="11.8" text-anchor="middle" fill="#000">560</text><line x1="925.67" y1="374.2" x2="925.67" y2="370.2" stroke="#222" stroke-width="0.8"/><line x1="925.67" y1="28" x2="925.67" y2="32" stroke="#222" stroke-width="0.8"/><text x="925.67" y="388.20" font-size="11.8" text-anchor="middle" fill="#000">565</text><line x1="965.20" y1="374.2" x2="965.20" y2="370.2" stroke="#222" stroke-width="0.8"/><line x1="965.20" y1="28" x2="965.20" y2="32" stroke="#222" stroke-width="0.8"/><text x="965.20" y="388.20" font-size="11.8" text-anchor="middle" fill="#000">570</text><line x1="577.8" y1="350.05" x2="581.8" y2="350.05" stroke="#222" stroke-width="0.8"/><line x1="965.2" y1="350.05" x2="961.2" y2="350.05" stroke="#222" stroke-width="0.8"/><text x="575.60" y="354.05" font-size="11.8" text-anchor="end" fill="#000">580</text><line x1="577.8" y1="323.21" x2="581.8" y2="323.21" stroke="#222" stroke-width="0.8"/><line x1="965.2" y1="323.21" x2="961.2" y2="323.21" stroke="#222" stroke-width="0.8"/><text x="575.60" y="327.21" font-size="11.8" text-anchor="end" fill="#000">590</text><line x1="577.8" y1="296.37" x2="581.8" y2="296.37" stroke="#222" stroke-width="0.8"/><line x1="965.2" y1="296.37" x2="961.2" y2="296.37" stroke="#222" stroke-width="0.8"/><text x="575.60" y="300.37" font-size="11.8" text-anchor="end" fill="#000">600</text><line x1="577.8" y1="269.53" x2="581.8" y2="269.53" stroke="#222" stroke-width="0.8"/><line x1="965.2" y1="269.53" x2="961.2" y2="269.53" stroke="#222" stroke-width="0.8"/><text x="575.60" y="273.53" font-size="11.8" text-anchor="end" fill="#000">610</text><line x1="577.8" y1="242.70" x2="581.8" y2="242.70" stroke="#222" stroke-width="0.8"/><line x1="965.2" y1="242.70" x2="961.2" y2="242.70" stroke="#222" stroke-width="0.8"/><text x="575.60" y="246.70" font-size="11.8" text-anchor="end" fill="#000">620</text><line x1="577.8" y1="215.86" x2="581.8" y2="215.86" stroke="#222" stroke-width="0.8"/><line x1="965.2" y1="215.86" x2="961.2" y2="215.86" stroke="#222" stroke-width="0.8"/><text x="575.60" y="219.86" font-size="11.8" text-anchor="end" fill="#000">630</text><line x1="577.8" y1="189.02" x2="581.8" y2="189.02" stroke="#222" stroke-width="0.8"/><line x1="965.2" y1="189.02" x2="961.2" y2="189.02" stroke="#222" stroke-width="0.8"/><text x="575.60" y="193.02" font-size="11.8" text-anchor="end" fill="#000">640</text><line x1="577.8" y1="162.19" x2="581.8" y2="162.19" stroke="#222" stroke-width="0.8"/><line x1="965.2" y1="162.19" x2="961.2" y2="162.19" stroke="#222" stroke-width="0.8"/><text x="575.60" y="166.19" font-size="11.8" text-anchor="end" fill="#000">650</text><line x1="577.8" y1="135.35" x2="581.8" y2="135.35" stroke="#222" stroke-width="0.8"/><line x1="965.2" y1="135.35" x2="961.2" y2="135.35" stroke="#222" stroke-width="0.8"/><text x="575.60" y="139.35" font-size="11.8" text-anchor="end" fill="#000">660</text><line x1="577.8" y1="108.51" x2="581.8" y2="108.51" stroke="#222" stroke-width="0.8"/><line x1="965.2" y1="108.51" x2="961.2" y2="108.51" stroke="#222" stroke-width="0.8"/><text x="575.60" y="112.51" font-size="11.8" text-anchor="end" fill="#000">670</text><line x1="577.8" y1="81.67" x2="581.8" y2="81.67" stroke="#222" stroke-width="0.8"/><line x1="965.2" y1="81.67" x2="961.2" y2="81.67" stroke="#222" stroke-width="0.8"/><text x="575.60" y="85.67" font-size="11.8" text-anchor="end" fill="#000">680</text><line x1="577.8" y1="54.84" x2="581.8" y2="54.84" stroke="#222" stroke-width="0.8"/><line x1="965.2" y1="54.84" x2="961.2" y2="54.84" stroke="#222" stroke-width="0.8"/><text x="575.60" y="58.84" font-size="11.8" text-anchor="end" fill="#000">690</text><line x1="577.8" y1="28.00" x2="581.8" y2="28.00" stroke="#222" stroke-width="0.8"/><line x1="965.2" y1="28.00" x2="961.2" y2="28.00" stroke="#222" stroke-width="0.8"/><text x="575.60" y="32.00" font-size="11.8" text-anchor="end" fill="#000">700</text><text x="771.50" y="17.80" font-size="13.6" text-anchor="middle" fill="#000">GI (Block 2)</text><text x="771.50" y="402.70" font-size="13.5" text-anchor="middle" fill="#000">Green wavelengths (nm)</text><text x="0" y="0" transform="translate(549.80,201.10) rotate(-90)" font-size="13.6" text-anchor="middle" fill="#000">Red wavelengths (nm)</text><rect x="979.50" y="28" width="19.20" height="346.20" fill="url(#jetgrad)"/><rect x="979.50" y="28" width="19.20" height="346.20" fill="none" stroke="#444" stroke-width="0.9"/><line x1="979.50" y1="374.20" x2="982.50" y2="374.20" stroke="#222" stroke-width="0.8"/><line x1="998.70" y1="374.20" x2="995.70" y2="374.20" stroke="#222" stroke-width="0.8"/><text x="1001.20" y="378.30" font-size="11.8" fill="#000">0</text><line x1="979.50" y1="331.98" x2="982.50" y2="331.98" stroke="#222" stroke-width="0.8"/><line x1="998.70" y1="331.98" x2="995.70" y2="331.98" stroke="#222" stroke-width="0.8"/><text x="1001.20" y="336.08" font-size="11.8" fill="#000">0.1</text><line x1="979.50" y1="289.76" x2="982.50" y2="289.76" stroke="#222" stroke-width="0.8"/><line x1="998.70" y1="289.76" x2="995.70" y2="289.76" stroke="#222" stroke-width="0.8"/><text x="1001.20" y="293.86" font-size="11.8" fill="#000">0.2</text><line x1="979.50" y1="247.54" x2="982.50" y2="247.54" stroke="#222" stroke-width="0.8"/><line x1="998.70" y1="247.54" x2="995.70" y2="247.54" stroke="#222" stroke-width="0.8"/><text x="1001.20" y="251.64" font-size="11.8" fill="#000">0.3</text><line x1="979.50" y1="205.32" x2="982.50" y2="205.32" stroke="#222" stroke-width="0.8"/><line x1="998.70" y1="205.32" x2="995.70" y2="205.32" stroke="#222" stroke-width="0.8"/><text x="1001.20" y="209.42" font-size="11.8" fill="#000">0.4</text><line x1="979.50" y1="163.10" x2="982.50" y2="163.10" stroke="#222" stroke-width="0.8"/><line x1="998.70" y1="163.10" x2="995.70" y2="163.10" stroke="#222" stroke-width="0.8"/><text x="1001.20" y="167.20" font-size="11.8" fill="#000">0.5</text><line x1="979.50" y1="120.88" x2="982.50" y2="120.88" stroke="#222" stroke-width="0.8"/><line x1="998.70" y1="120.88" x2="995.70" y2="120.88" stroke="#222" stroke-width="0.8"/><text x="1001.20" y="124.98" font-size="11.8" fill="#000">0.6</text><line x1="979.50" y1="78.66" x2="982.50" y2="78.66" stroke="#222" stroke-width="0.8"/><line x1="998.70" y1="78.66" x2="995.70" y2="78.66" stroke="#222" stroke-width="0.8"/><text x="1001.20" y="82.76" font-size="11.8" fill="#000">0.7</text><line x1="979.50" y1="36.44" x2="982.50" y2="36.44" stroke="#222" stroke-width="0.8"/><line x1="998.70" y1="36.44" x2="995.70" y2="36.44" stroke="#222" stroke-width="0.8"/><text x="1001.20" y="40.54" font-size="11.8" fill="#000">0.8</text><rect x="652.30" y="327.10" width="8.6" height="8.6" rx="1" fill="#FFFFF2"/><rect x="653.70" y="328.50" width="5.8" height="5.8" fill="#000"/><defs><clipPath id="clip3"><rect x="49.5" y="473.8" width="385.40" height="343.90"/></clipPath></defs><g clip-path="url(#clip3)"><rect x="49.5" y="473.8" width="385.40" height="343.90" fill="#80FF80"/><path d="M48.00,472.00C48.00,472.00 48.00,481.77 48.00,481.77C48.00,481.77 67.53,480.98 77.30,481.38C87.06,481.77 98.46,483.33 106.59,484.11C114.73,484.89 119.61,485.54 126.12,486.06C132.64,486.58 139.15,486.39 145.66,487.23C152.17,488.08 158.68,490.52 165.19,491.14C171.70,491.76 179.51,490.72 184.72,490.95C189.93,491.17 192.69,491.82 196.44,492.51C200.18,493.19 207.51,494.30 207.18,495.05C206.85,495.80 201.48,496.45 194.48,497.00C187.49,497.55 175.28,497.81 165.19,498.37C155.10,498.92 139.80,499.34 133.94,500.32C128.08,501.30 131.50,502.60 130.03,504.23C128.57,505.85 124.50,508.62 125.15,510.09C125.80,511.55 129.87,511.94 133.94,513.02C138.01,514.09 150.86,515.82 149.56,516.53C148.26,517.25 133.29,516.92 126.12,517.31C118.96,517.70 112.45,518.13 106.59,518.88C100.73,519.62 92.27,520.89 90.97,521.80C89.67,522.72 98.78,523.60 98.78,524.34C98.78,525.09 96.18,525.81 90.97,526.30C85.76,526.79 74.69,526.95 67.53,527.27C60.37,527.60 48.00,528.25 48.00,528.25C48.00,528.25 48.00,530.20 48.00,530.20C48.00,530.20 61.02,530.37 67.53,530.59C74.04,530.82 80.23,530.85 87.06,531.57C93.90,532.29 106.27,533.91 108.55,534.89C110.83,535.87 101.06,536.52 100.73,537.43C100.41,538.34 106.27,539.38 106.59,540.36C106.92,541.34 106.59,542.05 102.69,543.29C98.78,544.53 84.13,546.80 83.16,547.78C82.18,548.76 92.92,548.43 96.83,549.15C100.73,549.86 103.99,550.61 106.59,552.08C109.20,553.54 110.83,556.31 112.45,557.94C114.08,559.57 115.38,560.70 116.36,561.84C117.34,562.98 113.43,564.12 118.31,564.77C123.20,565.42 137.84,565.20 145.66,565.75C153.47,566.30 158.68,567.51 165.19,568.09C171.70,568.68 179.35,569.07 184.72,569.27C190.09,569.46 196.11,569.04 197.41,569.27C198.72,569.49 197.90,570.24 192.53,570.63C187.16,571.02 169.91,571.28 165.19,571.61C160.47,571.93 160.96,572.33 164.21,572.59C167.47,572.85 175.44,572.36 184.72,573.17C194.00,573.99 216.29,576.10 219.88,577.47C223.46,578.84 206.85,580.07 206.20,581.38C205.55,582.68 218.25,583.33 215.97,585.28C213.69,587.23 192.86,591.14 192.53,593.09C192.21,595.05 209.13,596.02 214.02,597.00C218.90,597.98 220.20,597.98 221.83,598.95C223.46,599.93 221.50,601.56 223.78,602.86C226.06,604.16 234.69,605.20 235.50,606.77C236.31,608.33 228.34,610.93 228.66,612.23C228.99,613.54 234.23,614.02 237.45,614.58C240.68,615.13 244.32,615.23 248.00,615.55C251.68,615.88 253.05,615.72 259.53,616.53C266.01,617.35 284.92,618.97 286.88,620.44C288.83,621.90 269.30,623.69 271.25,625.32C273.20,626.95 289.80,629.06 298.59,630.20C307.38,631.34 316.33,631.57 323.98,632.16C331.63,632.74 341.89,632.90 344.49,633.72C347.10,634.53 339.77,636.00 339.61,637.04C339.45,638.08 340.59,639.32 343.52,639.97C346.45,640.62 354.58,639.94 357.19,640.95C359.79,641.95 359.14,644.53 359.14,646.02C359.14,647.52 357.84,648.77 357.19,649.91C356.54,651.04 357.84,652.02 355.23,652.84C352.63,653.65 341.24,654.30 341.56,654.79C341.89,655.28 353.28,654.95 357.19,655.77C361.09,656.58 363.05,658.04 365.00,659.67C366.95,661.30 366.95,663.42 368.91,665.53C370.86,667.65 376.07,670.74 376.72,672.37C377.37,673.99 376.07,674.32 372.81,675.30C369.56,676.27 366.30,677.41 357.19,678.23C348.07,679.04 327.89,679.69 318.12,680.18C308.36,680.67 305.10,680.34 298.59,681.16C292.08,681.97 285.57,683.60 279.06,685.06C272.55,686.53 266.04,688.81 259.53,689.95C253.02,691.08 245.96,691.41 240.00,691.90C234.04,692.39 232.99,692.39 223.78,692.88C214.57,693.36 197.74,694.11 184.72,694.83C171.70,695.54 157.05,696.46 145.66,697.17C134.26,697.89 123.85,698.21 116.36,699.12C108.87,700.04 102.04,701.57 100.73,702.64C99.43,703.71 103.34,704.59 108.55,705.57C113.76,706.55 132.31,707.52 131.98,708.50C131.66,709.48 110.17,710.62 106.59,711.43C103.01,712.24 103.99,712.73 110.50,713.38C117.01,714.03 133.29,714.68 145.66,715.34C158.03,715.99 171.70,716.64 184.72,717.29C197.74,717.94 213.23,718.59 223.78,719.24C234.33,719.89 238.79,720.54 248.00,721.20C257.21,721.85 267.38,722.50 279.06,723.15C290.75,723.80 305.10,724.35 318.12,725.10C331.15,725.85 344.17,726.76 357.19,727.64C370.21,728.52 382.90,729.59 396.25,730.38C409.60,731.16 437.27,732.33 437.27,732.33C437.27,732.33 440.00,470.00 440.00,470.00C440.00,470.00 48.00,472.00 48.00,472.00Z" fill="#00FFFF" stroke="#111" stroke-width="0.7" stroke-linejoin="round"/><path d="M58.74,547.78C58.74,547.46 62.16,546.93 63.62,547.00C65.09,547.07 67.53,547.85 67.53,548.17C67.53,548.50 65.09,549.02 63.62,548.95C62.16,548.89 58.74,548.11 58.74,547.78Z" fill="#00FFFF" stroke="#111" stroke-width="0.7" stroke-linejoin="round"/><path d="M166.16,593.48C166.16,593.22 171.86,592.70 174.95,592.70C178.05,592.70 184.72,593.22 184.72,593.48C184.72,593.74 178.05,594.27 174.95,594.27C171.86,594.27 166.16,593.74 166.16,593.48Z" fill="#00FFFF" stroke="#111" stroke-width="0.7" stroke-linejoin="round"/><path d="M391.50,672.30C391.50,671.63 392.02,670.75 392.50,670.30C392.98,669.85 393.77,669.60 394.40,669.60C395.03,669.60 395.83,669.85 396.30,670.30C396.77,670.75 397.20,671.63 397.20,672.30C397.20,672.97 396.77,673.85 396.30,674.30C395.83,674.75 395.03,675.00 394.40,675.00C393.77,675.00 392.98,674.75 392.50,674.30C392.02,673.85 391.50,672.97 391.50,672.30Z" fill="#80FF80" stroke="#111" stroke-width="0.7" stroke-linejoin="round"/><path d="M219.88,473.56C219.88,473.56 230.81,475.35 235.50,475.91C240.19,476.46 244.97,476.62 248.00,476.88C251.03,477.14 250.12,476.82 253.67,477.47C257.22,478.12 261.81,479.91 269.30,480.79C276.78,481.67 288.83,482.09 298.59,482.74C308.36,483.39 318.12,484.04 327.89,484.70C337.66,485.35 350.68,485.67 357.19,486.65C363.70,487.62 363.70,489.15 366.95,490.55C370.21,491.95 378.35,493.58 376.72,495.05C375.09,496.51 362.07,498.37 357.19,499.34C352.30,500.32 349.38,500.09 347.42,500.91C345.47,501.72 346.93,503.02 345.47,504.23C344.00,505.43 338.96,506.83 338.63,508.13C338.31,509.43 340.42,510.74 343.52,512.04C346.61,513.34 358.16,515.07 357.19,515.95C356.21,516.82 344.17,516.89 337.66,517.31C331.15,517.74 324.64,518.06 318.12,518.48C311.61,518.91 306.24,519.30 298.59,519.85C290.94,520.40 271.90,521.06 272.23,521.80C272.55,522.55 299.41,523.60 300.55,524.34C301.69,525.09 285.90,525.42 279.06,526.30C272.23,527.18 259.53,528.74 259.53,529.62C259.53,530.50 272.55,530.82 279.06,531.57C285.57,532.32 292.90,533.56 298.59,534.11C304.29,534.66 313.57,534.24 313.24,534.89C312.92,535.54 297.13,536.71 296.64,538.02C296.15,539.32 311.61,541.60 310.31,542.70C309.01,543.81 295.01,543.81 288.83,544.66C282.64,545.50 271.58,547.03 273.20,547.78C274.83,548.53 292.41,548.60 298.59,549.15C304.78,549.70 307.71,549.96 310.31,551.10C312.92,552.24 311.94,554.03 314.22,555.98C316.50,557.94 320.08,561.36 323.98,562.82C327.89,564.29 331.47,564.12 337.66,564.77C343.84,565.42 356.21,565.59 361.09,566.73C365.98,567.87 364.35,570.14 366.95,571.61C369.56,573.07 370.53,574.54 376.72,575.52C382.90,576.49 404.06,576.75 404.06,577.47C404.06,578.18 381.93,579.00 376.72,579.81C371.51,580.63 368.58,581.60 372.81,582.35C377.04,583.10 398.20,583.49 402.11,584.30C406.02,585.12 400.48,586.49 396.25,587.23C392.02,587.98 381.28,587.82 376.72,588.80C372.16,589.77 368.91,591.89 368.91,593.09C368.91,594.30 371.18,595.31 376.72,596.02C382.25,596.74 396.90,596.41 402.11,597.39C407.32,598.37 406.34,600.65 407.97,601.88C409.60,603.12 406.99,604.00 411.88,604.81C416.76,605.63 437.27,606.77 437.27,606.77C437.27,606.77 437.27,472.00 437.27,472.00C437.27,472.00 219.88,473.56 219.88,473.56Z" fill="#0080FF" stroke="#111" stroke-width="0.7" stroke-linejoin="round"/><path d="M432.38,609.70C432.38,608.72 437.27,607.74 437.27,607.74C437.27,607.74 437.27,613.60 437.27,613.60C437.27,613.60 432.38,610.67 432.38,609.70Z" fill="#0080FF" stroke="#111" stroke-width="0.7" stroke-linejoin="round"/><path d="M407.97,473.56C407.97,473.56 437.27,473.56 437.27,473.56C437.27,473.56 437.27,476.69 437.27,476.69C437.27,476.69 432.38,475.26 427.50,474.73C422.62,474.21 407.97,473.56 407.97,473.56Z" fill="#0000FF" stroke="#111" stroke-width="0.7" stroke-linejoin="round"/><path d="M47.02,576.49C47.02,576.49 51.91,577.14 51.91,577.47C51.91,577.79 47.02,578.45 47.02,578.45C47.02,578.45 47.02,576.49 47.02,576.49Z" fill="#FF8F00" stroke="#111" stroke-width="0.7" stroke-linejoin="round"/><path d="M48.00,598.56C48.00,598.56 50.60,599.86 53.86,600.91C57.11,601.95 62.00,603.84 67.53,604.81C73.07,605.79 86.09,605.63 87.06,606.77C88.04,607.90 71.76,610.18 73.39,611.65C75.02,613.11 88.04,614.09 96.83,615.55C105.62,617.02 119.94,619.46 126.12,620.44C132.31,621.41 133.94,620.60 133.94,621.41C133.94,622.23 124.17,624.18 126.12,625.32C128.08,626.46 139.15,627.18 145.66,628.25C152.17,629.32 158.68,631.05 165.19,631.77C171.70,632.48 179.18,632.32 184.72,632.55C190.25,632.77 196.44,632.55 198.39,633.13C200.34,633.72 195.46,634.92 196.44,636.06C197.41,637.20 202.30,638.31 204.25,639.97C206.20,641.63 207.83,644.37 208.16,646.02C208.48,647.68 205.88,648.61 206.20,649.91C206.53,651.20 207.83,652.18 210.11,653.81C212.39,655.44 217.92,658.04 219.88,659.67C221.83,661.30 220.20,661.95 221.83,663.58C223.46,665.21 228.01,667.81 229.64,669.44C231.27,671.07 231.92,672.20 231.59,673.34C231.27,674.48 232.24,675.13 227.69,676.27C223.13,677.41 211.41,679.37 204.25,680.18C197.09,680.99 191.23,680.67 184.72,681.16C178.21,681.64 170.07,682.13 165.19,683.11C160.30,684.09 161.93,686.04 155.42,687.02C148.91,687.99 137.52,688.15 126.12,688.97C114.73,689.78 100.08,691.08 87.06,691.90C74.04,692.71 48.00,693.85 48.00,693.85C48.00,693.85 48.00,598.56 48.00,598.56Z" fill="#FFFF00" stroke="#111" stroke-width="0.7" stroke-linejoin="round"/><path d="M48.00,628.25C48.00,628.25 61.02,631.18 67.53,633.13C74.04,635.09 82.51,637.82 87.06,639.97C91.62,642.12 93.25,644.37 94.88,646.02C96.50,647.68 95.85,648.45 96.83,649.91C97.80,651.37 98.78,653.16 100.73,654.79C102.69,656.42 106.59,657.88 108.55,659.67C110.50,661.46 111.15,663.58 112.45,665.53C113.76,667.48 115.87,669.76 116.36,671.39C116.85,673.02 117.01,674.16 115.38,675.30C113.76,676.44 111.31,677.09 106.59,678.23C101.87,679.37 93.57,680.99 87.06,682.13C80.55,683.27 74.04,684.09 67.53,685.06C61.02,686.04 48.00,687.99 48.00,687.99C48.00,687.99 48.00,628.25 48.00,628.25Z" fill="#FF8F00" stroke="#111" stroke-width="0.7" stroke-linejoin="round"/><path d="M267.34,701.66C267.99,700.82 270.60,699.87 279.06,699.12C287.53,698.38 305.10,697.89 318.12,697.17C331.15,696.46 344.17,695.54 357.19,694.83C370.21,694.11 382.90,693.46 396.25,692.88C409.60,692.29 437.27,691.31 437.27,691.31C437.27,691.31 437.27,722.56 437.27,722.56C437.27,722.56 409.60,721.42 396.25,720.80C382.90,720.19 370.21,719.50 357.19,718.85C344.17,718.20 331.15,717.58 318.12,716.90C305.10,716.21 287.20,715.50 279.06,714.75C270.92,714.00 269.95,713.12 269.30,712.41C268.65,711.69 267.51,711.17 275.16,710.45C282.81,709.74 311.29,708.92 315.20,708.11C319.10,707.30 305.27,706.22 298.59,705.57C291.92,704.92 280.36,704.85 275.16,704.20C269.95,703.55 266.69,702.51 267.34,701.66Z" fill="#0080FF" stroke="#111" stroke-width="0.7" stroke-linejoin="round"/><path d="M48.00,717.29C48.00,717.29 74.04,718.59 87.06,719.24C100.08,719.89 113.10,720.54 126.12,721.20C139.15,721.85 152.17,722.50 165.19,723.15C178.21,723.80 191.78,724.12 204.25,725.10C216.72,726.08 230.78,728.13 239.99,729.01C249.21,729.89 253.02,729.72 259.53,730.38C266.04,731.03 272.55,732.00 279.06,732.91C285.57,733.83 292.73,734.70 298.59,735.84C304.45,736.98 309.66,739.42 314.22,739.75C318.78,740.08 322.03,737.96 325.94,737.80C329.84,737.63 332.45,738.12 337.66,738.77C342.86,739.42 350.68,740.56 357.19,741.70C363.70,742.84 370.86,744.80 376.72,745.61C382.58,746.42 388.44,746.10 392.34,746.59C396.25,747.07 397.88,747.73 400.16,748.54C402.43,749.35 399.83,750.72 406.02,751.47C412.20,752.22 437.27,753.03 437.27,753.03C437.27,753.03 437.27,821.78 437.27,821.78C437.27,821.78 48.00,821.78 48.00,821.78C48.00,821.78 48.00,717.29 48.00,717.29Z" fill="#FFFF00" stroke="#111" stroke-width="0.7" stroke-linejoin="round"/><path d="M48.00,721.20C48.00,721.20 74.04,722.40 87.06,723.15C100.08,723.90 113.10,724.87 126.12,725.69C139.15,726.50 152.17,727.32 165.19,728.03C178.21,728.75 194.48,729.17 204.25,729.98C214.02,730.80 218.90,731.29 223.78,732.91C228.66,734.54 229.51,737.96 233.55,739.75C237.58,741.54 243.67,742.68 248.00,743.66C252.33,744.63 256.63,744.63 259.53,745.61C262.43,746.59 262.14,748.05 265.39,749.52C268.65,750.98 273.53,753.26 279.06,754.40C284.60,755.54 296.97,755.54 298.59,756.35C300.22,757.17 295.34,758.47 288.83,759.28C282.32,760.10 267.67,760.42 259.53,761.23C251.39,762.05 244.33,763.35 240.00,764.16C235.67,764.98 235.76,765.37 233.55,766.12C231.33,766.87 226.71,767.68 226.71,768.66C226.71,769.63 230.00,771.26 233.55,771.98C237.10,772.69 242.04,772.30 248.00,772.95C253.96,773.60 262.30,774.78 269.30,775.88C276.30,776.99 280.23,778.71 290.00,779.59C299.77,780.47 316.01,780.73 327.89,781.16C339.77,781.58 348.59,781.87 361.29,782.13C373.98,782.39 391.40,782.85 404.06,782.72C416.73,782.59 437.27,781.35 437.27,781.35C437.27,781.35 437.27,821.78 437.27,821.78C437.27,821.78 162.26,819.07 162.26,819.07C162.26,819.07 160.80,812.03 159.33,809.69C157.87,807.35 156.40,806.57 153.47,805.00C150.54,803.44 145.27,801.68 141.75,800.32C138.24,798.95 134.33,798.36 132.38,796.80C130.43,795.24 131.40,792.70 130.03,790.94C128.67,789.18 127.10,787.62 124.17,786.25C121.25,784.88 117.34,784.10 112.46,782.74C107.57,781.37 100.74,779.51 94.88,778.05C89.02,776.58 81.79,775.12 77.30,773.95C72.81,772.78 66.95,772.48 67.92,771.02C68.90,769.55 77.69,766.82 83.16,765.16C88.63,763.50 94.88,762.42 100.74,761.06C106.60,759.69 113.82,758.22 118.32,756.95C122.81,755.68 128.67,754.51 127.69,753.44C126.71,752.36 117.92,751.68 112.46,750.51C106.99,749.34 101.71,747.87 94.88,746.41C88.04,744.94 79.06,743.18 71.44,741.72C63.82,740.25 49.17,737.62 49.17,737.62C49.17,737.62 48.00,721.20 48.00,721.20Z" fill="#FF8F00" stroke="#111" stroke-width="0.7" stroke-linejoin="round"/><path d="M48.00,724.12C48.00,724.12 69.16,724.45 77.30,725.10C85.43,725.75 90.97,726.73 96.83,728.03C102.69,729.33 107.90,731.35 112.45,732.91C117.01,734.48 125.47,735.94 124.17,737.41C122.87,738.87 110.83,741.38 104.64,741.70C98.46,742.03 93.25,740.34 87.06,739.36C80.88,738.38 74.04,736.59 67.53,735.84C61.02,735.10 48.00,734.87 48.00,734.87C48.00,734.87 48.00,724.12 48.00,724.12Z" fill="#FF1000" stroke="#111" stroke-width="0.7" stroke-linejoin="round"/><path d="M85.50,771.60C85.50,770.43 90.38,769.45 94.88,768.67C99.37,767.89 106.60,767.21 112.46,766.92C118.32,766.62 124.17,766.62 130.03,766.92C135.89,767.21 141.28,768.09 147.61,768.67C153.94,769.26 161.82,770.04 168.00,770.43C174.19,770.82 178.68,770.58 184.72,771.00C190.76,771.42 197.74,772.24 204.25,772.95C210.76,773.67 216.49,774.06 223.78,775.30C231.07,776.53 242.69,779.20 248.00,780.38C253.31,781.55 252.56,781.61 255.62,782.33C258.69,783.04 265.39,783.30 266.37,784.67C267.34,786.04 261.97,788.90 261.48,790.53C261.00,792.16 264.09,793.14 263.44,794.44C262.79,795.74 257.25,796.72 257.58,798.34C257.90,799.97 263.93,800.30 265.39,804.20C266.86,808.11 266.37,821.78 266.37,821.78C266.37,821.78 212.06,821.78 212.06,821.78C212.06,821.78 212.71,811.69 208.16,809.09C203.60,806.48 191.23,807.30 184.72,806.16C178.21,805.02 172.67,803.55 169.09,802.25C165.51,800.95 164.47,799.45 163.23,798.34C162.00,797.24 162.13,796.86 161.68,795.63C161.22,794.39 161.87,792.11 160.50,790.94C159.14,789.77 156.60,789.38 153.47,788.60C150.35,787.81 146.64,787.13 141.75,786.25C136.87,785.37 130.03,784.49 124.17,783.32C118.32,782.15 111.48,780.49 106.60,779.22C101.71,777.95 98.39,776.97 94.88,775.70C91.36,774.44 85.50,772.78 85.50,771.60Z" fill="#FF1000" stroke="#111" stroke-width="0.7" stroke-linejoin="round"/><path d="M275.16,769.05C278.41,768.23 288.18,766.77 298.59,766.12C309.01,765.47 324.64,765.47 337.66,765.14C350.68,764.82 363.70,764.65 376.72,764.16C389.74,763.68 405.69,762.70 415.78,762.21C425.87,761.72 437.27,761.23 437.27,761.23C437.27,761.23 437.27,775.88 437.27,775.88C437.27,775.88 409.60,775.88 396.25,775.88C382.90,775.88 370.21,776.21 357.19,775.88C344.17,775.56 331.15,774.74 318.12,773.93C305.10,773.12 286.22,771.81 279.06,771.00C271.90,770.19 271.90,769.86 275.16,769.05Z" fill="#80FF80" stroke="#111" stroke-width="0.7" stroke-linejoin="round"/><path d="M375.55,769.05C375.55,768.56 380.20,767.48 382.58,767.48C384.95,767.48 389.80,768.56 389.80,769.05C389.80,769.54 384.95,770.41 382.58,770.41C380.20,770.41 375.55,769.54 375.55,769.05Z" fill="#00FFFF" stroke="#111" stroke-width="0.7" stroke-linejoin="round"/><path d="M401.33,768.66C401.33,768.04 408.10,766.90 411.88,766.90C415.65,766.90 423.98,768.04 423.98,768.66C423.98,769.27 415.65,770.61 411.88,770.61C408.10,770.61 401.33,769.27 401.33,768.66Z" fill="#00FFFF" stroke="#111" stroke-width="0.7" stroke-linejoin="round"/><path d="M428.28,768.66C428.28,768.01 437.27,766.70 437.27,766.70C437.27,766.70 437.27,770.61 437.27,770.61C437.27,770.61 428.28,769.31 428.28,768.66Z" fill="#00FFFF" stroke="#111" stroke-width="0.7" stroke-linejoin="round"/><path d="M295.66,798.54C295.83,797.76 310.48,797.66 318.12,797.37C325.77,797.07 333.88,797.43 341.56,796.78C349.24,796.13 359.99,794.73 364.22,793.46C368.45,792.19 365.07,790.24 366.95,789.16C368.84,788.09 368.16,787.37 375.55,787.02C382.94,786.66 404.39,786.53 411.29,787.02C418.19,787.50 416.24,788.74 416.95,789.95C417.67,791.15 414.15,793.07 415.59,794.24C417.02,795.41 421.93,796.26 425.55,796.98C429.16,797.69 437.27,798.54 437.27,798.54C437.27,798.54 437.27,821.78 437.27,821.78C437.27,821.78 342.54,821.78 342.54,821.78C342.54,821.78 342.38,813.90 341.56,811.04C340.75,808.17 339.12,806.22 337.66,804.59C336.19,802.97 336.19,801.70 332.77,801.27C329.36,800.85 323.33,802.51 317.15,802.05C310.96,801.60 295.50,799.32 295.66,798.54Z" fill="#FFFF00" stroke="#111" stroke-width="0.7" stroke-linejoin="round"/><path d="M346.25,790.53C346.25,790.21 347.39,789.55 348.01,789.55C348.63,789.55 349.96,790.21 349.96,790.53C349.96,790.86 348.63,791.51 348.01,791.51C347.39,791.51 346.25,790.86 346.25,790.53Z" fill="#FFFF00" stroke="#111" stroke-width="0.7" stroke-linejoin="round"/><path d="M391.37,793.07C391.37,792.71 394.59,792.09 396.25,792.09C397.91,792.09 401.33,792.71 401.33,793.07C401.33,793.43 397.91,794.24 396.25,794.24C394.59,794.24 391.37,793.43 391.37,793.07Z" fill="#FF8F00" stroke="#111" stroke-width="0.7" stroke-linejoin="round"/><path d="M352.89,809.09C353.38,807.62 355.49,805.51 357.19,805.18C358.88,804.85 361.88,805.99 363.05,807.13C364.22,808.27 364.87,810.58 364.22,812.02C363.57,813.45 360.80,815.40 359.14,815.73C357.48,816.05 355.30,815.08 354.26,813.97C353.22,812.86 352.40,810.55 352.89,809.09Z" fill="#FF8F00" stroke="#111" stroke-width="0.7" stroke-linejoin="round"/><path d="M418.32,805.18C418.65,803.39 424.34,801.40 427.50,800.30C430.66,799.19 437.27,798.54 437.27,798.54C437.27,798.54 437.27,810.06 437.27,810.06C437.27,810.06 428.70,811.85 425.55,811.04C422.39,810.23 417.99,806.97 418.32,805.18Z" fill="#FF8F00" stroke="#111" stroke-width="0.7" stroke-linejoin="round"/><path d="M372.03,798.34C372.68,797.43 377.83,797.76 380.62,797.76C383.42,797.76 388.50,797.27 388.83,798.34C389.15,799.42 384.60,803.39 382.58,804.20C380.56,805.02 378.48,804.20 376.72,803.23C374.96,802.25 371.38,799.26 372.03,798.34Z" fill="#80FF80" stroke="#111" stroke-width="0.7" stroke-linejoin="round"/><path d="M404.06,799.32C404.88,798.67 410.08,798.18 411.88,798.34C413.67,798.51 414.97,799.26 414.80,800.30C414.64,801.34 412.20,804.27 410.90,804.59C409.60,804.92 408.13,803.13 406.99,802.25C405.85,801.37 403.25,799.97 404.06,799.32Z" fill="#80FF80" stroke="#111" stroke-width="0.7" stroke-linejoin="round"/><path d="M366.95,821.78C366.95,821.78 371.84,815.43 376.72,813.97C381.60,812.50 390.72,813.64 396.25,812.99C401.78,812.34 406.67,810.06 409.92,810.06C413.18,810.06 413.18,812.02 415.78,812.99C418.39,813.97 421.97,816.08 425.55,815.92C429.13,815.76 437.27,812.02 437.27,812.02C437.27,812.02 437.27,821.78 437.27,821.78C437.27,821.78 366.95,821.78 366.95,821.78Z" fill="#80FF80" stroke="#111" stroke-width="0.7" stroke-linejoin="round"/><path d="M425.55,785.06C427.50,784.74 437.27,784.28 437.27,784.28C437.27,784.28 437.27,786.62 437.27,786.62C437.27,786.62 427.50,786.49 425.55,786.23C423.59,785.97 423.59,785.39 425.55,785.06Z" fill="#FF1000" stroke="#111" stroke-width="0.7" stroke-linejoin="round"/><path d="M49.17,741.72C49.17,741.72 64.80,743.48 71.44,744.65C78.08,745.82 84.72,747.19 89.02,748.75C93.31,750.31 96.24,752.27 97.22,754.02C98.20,755.78 97.22,757.83 94.88,759.30C92.53,760.76 88.04,761.74 83.16,762.81C78.27,763.89 71.24,764.96 65.58,765.74C59.91,766.52 49.17,767.50 49.17,767.50C49.17,767.50 49.17,741.72 49.17,741.72Z" fill="#80FF80" stroke="#111" stroke-width="0.7" stroke-linejoin="round"/><path d="M49.17,745.82C49.17,745.82 60.89,746.80 65.58,747.58C70.27,748.36 74.56,749.24 77.30,750.51C80.03,751.78 81.99,753.54 81.99,755.20C81.99,756.86 80.03,759.10 77.30,760.47C74.56,761.84 70.27,762.52 65.58,763.40C60.89,764.28 49.17,765.74 49.17,765.74C49.17,765.74 49.17,745.82 49.17,745.82Z" fill="#00FFFF" stroke="#111" stroke-width="0.7" stroke-linejoin="round"/><path d="M49.17,750.51C49.17,750.51 53.27,751.39 55.03,752.27C56.79,753.15 59.52,754.51 59.72,755.78C59.91,757.05 57.96,758.91 56.20,759.88C54.45,760.86 49.17,761.64 49.17,761.64C49.17,761.64 49.17,750.51 49.17,750.51Z" fill="#0080FF" stroke="#111" stroke-width="0.7" stroke-linejoin="round"/><path d="M49.17,773.95C49.17,773.95 59.91,775.41 65.58,776.29C71.24,777.17 77.30,778.15 83.16,779.22C89.02,780.29 96.05,781.37 100.74,782.74C105.42,784.10 108.94,785.86 111.28,787.42C113.63,788.99 113.63,790.35 114.80,792.11C115.97,793.87 116.17,796.21 118.32,797.97C120.46,799.73 124.76,801.29 127.69,802.66C130.62,804.03 133.55,804.81 135.89,806.17C138.24,807.54 140.39,808.71 141.75,810.86C143.12,813.01 144.10,819.07 144.10,819.07C144.10,819.07 49.17,819.07 49.17,819.07C49.17,819.07 49.17,773.95 49.17,773.95Z" fill="#80FF80" stroke="#111" stroke-width="0.7" stroke-linejoin="round"/><path d="M49.17,776.29C49.17,776.29 64.80,778.34 71.44,779.22C78.08,780.10 84.33,780.39 89.02,781.56C93.70,782.74 97.22,784.69 99.56,786.25C101.91,787.81 101.91,789.18 103.08,790.94C104.25,792.70 104.84,794.85 106.60,796.80C108.35,798.75 111.28,800.90 113.63,802.66C115.97,804.42 118.90,805.78 120.66,807.35C122.42,808.91 123.20,810.08 124.17,812.03C125.15,813.99 126.52,819.07 126.52,819.07C126.52,819.07 49.17,819.07 49.17,819.07C49.17,819.07 49.17,776.29 49.17,776.29Z" fill="#00FFFF" stroke="#111" stroke-width="0.7" stroke-linejoin="round"/><path d="M49.17,778.63C49.17,778.63 60.31,779.51 65.58,780.39C70.85,781.27 76.91,782.74 80.81,783.91C84.72,785.08 87.26,786.06 89.02,787.42C90.78,788.79 89.99,790.55 91.36,792.11C92.73,793.67 95.07,795.04 97.22,796.80C99.37,798.56 101.71,800.71 104.25,802.66C106.79,804.61 110.50,805.78 112.46,808.52C114.41,811.25 115.97,819.07 115.97,819.07C115.97,819.07 49.17,819.07 49.17,819.07C49.17,819.07 49.17,778.63 49.17,778.63Z" fill="#0080FF" stroke="#111" stroke-width="0.7" stroke-linejoin="round"/><path d="M49.17,782.15C49.17,782.15 56.40,783.03 59.72,783.91C63.04,784.79 66.75,786.25 69.09,787.42C71.44,788.60 72.42,789.77 73.78,790.94C75.15,792.11 75.15,793.28 77.30,794.46C79.45,795.63 84.13,796.60 86.67,797.97C89.21,799.34 90.78,800.71 92.53,802.66C94.29,804.61 95.66,806.96 97.22,809.69C98.78,812.43 101.91,819.07 101.91,819.07C101.91,819.07 49.17,819.07 49.17,819.07C49.17,819.07 49.17,782.15 49.17,782.15Z" fill="#0000FF" stroke="#111" stroke-width="0.7" stroke-linejoin="round"/><path d="M49.17,792.70C49.17,792.70 54.64,794.55 57.38,795.63C60.11,796.70 62.84,797.97 65.58,799.14C68.31,800.32 71.24,801.29 73.78,802.66C76.32,804.03 78.86,805.78 80.81,807.35C82.77,808.91 84.13,810.08 85.50,812.03C86.87,813.99 89.02,819.07 89.02,819.07C89.02,819.07 49.17,819.07 49.17,819.07C49.17,819.07 49.17,792.70 49.17,792.70Z" fill="#00008F" stroke="#111" stroke-width="0.7" stroke-linejoin="round"/></g><rect x="49.5" y="473.8" width="385.40" height="343.90" fill="none" stroke="#444" stroke-width="0.9"/><line x1="80.96" y1="817.7" x2="80.96" y2="813.7" stroke="#222" stroke-width="0.8"/><line x1="80.96" y1="473.8" x2="80.96" y2="477.8" stroke="#222" stroke-width="0.8"/><text x="80.96" y="830.70" font-size="11.8" text-anchor="middle" fill="#000">525</text><line x1="120.29" y1="817.7" x2="120.29" y2="813.7" stroke="#222" stroke-width="0.8"/><line x1="120.29" y1="473.8" x2="120.29" y2="477.8" stroke="#222" stroke-width="0.8"/><text x="120.29" y="830.70" font-size="11.8" text-anchor="middle" fill="#000">530</text><line x1="159.61" y1="817.7" x2="159.61" y2="813.7" stroke="#222" stroke-width="0.8"/><line x1="159.61" y1="473.8" x2="159.61" y2="477.8" stroke="#222" stroke-width="0.8"/><text x="159.61" y="830.70" font-size="11.8" text-anchor="middle" fill="#000">535</text><line x1="198.94" y1="817.7" x2="198.94" y2="813.7" stroke="#222" stroke-width="0.8"/><line x1="198.94" y1="473.8" x2="198.94" y2="477.8" stroke="#222" stroke-width="0.8"/><text x="198.94" y="830.70" font-size="11.8" text-anchor="middle" fill="#000">540</text><line x1="238.27" y1="817.7" x2="238.27" y2="813.7" stroke="#222" stroke-width="0.8"/><line x1="238.27" y1="473.8" x2="238.27" y2="477.8" stroke="#222" stroke-width="0.8"/><text x="238.27" y="830.70" font-size="11.8" text-anchor="middle" fill="#000">545</text><line x1="277.59" y1="817.7" x2="277.59" y2="813.7" stroke="#222" stroke-width="0.8"/><line x1="277.59" y1="473.8" x2="277.59" y2="477.8" stroke="#222" stroke-width="0.8"/><text x="277.59" y="830.70" font-size="11.8" text-anchor="middle" fill="#000">550</text><line x1="316.92" y1="817.7" x2="316.92" y2="813.7" stroke="#222" stroke-width="0.8"/><line x1="316.92" y1="473.8" x2="316.92" y2="477.8" stroke="#222" stroke-width="0.8"/><text x="316.92" y="830.70" font-size="11.8" text-anchor="middle" fill="#000">555</text><line x1="356.25" y1="817.7" x2="356.25" y2="813.7" stroke="#222" stroke-width="0.8"/><line x1="356.25" y1="473.8" x2="356.25" y2="477.8" stroke="#222" stroke-width="0.8"/><text x="356.25" y="830.70" font-size="11.8" text-anchor="middle" fill="#000">560</text><line x1="395.57" y1="817.7" x2="395.57" y2="813.7" stroke="#222" stroke-width="0.8"/><line x1="395.57" y1="473.8" x2="395.57" y2="477.8" stroke="#222" stroke-width="0.8"/><text x="395.57" y="830.70" font-size="11.8" text-anchor="middle" fill="#000">565</text><line x1="434.90" y1="817.7" x2="434.90" y2="813.7" stroke="#222" stroke-width="0.8"/><line x1="434.90" y1="473.8" x2="434.90" y2="477.8" stroke="#222" stroke-width="0.8"/><text x="434.90" y="830.70" font-size="11.8" text-anchor="middle" fill="#000">570</text><line x1="49.5" y1="793.71" x2="53.5" y2="793.71" stroke="#222" stroke-width="0.8"/><line x1="434.9" y1="793.71" x2="430.9" y2="793.71" stroke="#222" stroke-width="0.8"/><text x="47.30" y="797.71" font-size="11.8" text-anchor="end" fill="#000">580</text><line x1="49.5" y1="767.05" x2="53.5" y2="767.05" stroke="#222" stroke-width="0.8"/><line x1="434.9" y1="767.05" x2="430.9" y2="767.05" stroke="#222" stroke-width="0.8"/><text x="47.30" y="771.05" font-size="11.8" text-anchor="end" fill="#000">590</text><line x1="49.5" y1="740.39" x2="53.5" y2="740.39" stroke="#222" stroke-width="0.8"/><line x1="434.9" y1="740.39" x2="430.9" y2="740.39" stroke="#222" stroke-width="0.8"/><text x="47.30" y="744.39" font-size="11.8" text-anchor="end" fill="#000">600</text><line x1="49.5" y1="713.73" x2="53.5" y2="713.73" stroke="#222" stroke-width="0.8"/><line x1="434.9" y1="713.73" x2="430.9" y2="713.73" stroke="#222" stroke-width="0.8"/><text x="47.30" y="717.73" font-size="11.8" text-anchor="end" fill="#000">610</text><line x1="49.5" y1="687.07" x2="53.5" y2="687.07" stroke="#222" stroke-width="0.8"/><line x1="434.9" y1="687.07" x2="430.9" y2="687.07" stroke="#222" stroke-width="0.8"/><text x="47.30" y="691.07" font-size="11.8" text-anchor="end" fill="#000">620</text><line x1="49.5" y1="660.41" x2="53.5" y2="660.41" stroke="#222" stroke-width="0.8"/><line x1="434.9" y1="660.41" x2="430.9" y2="660.41" stroke="#222" stroke-width="0.8"/><text x="47.30" y="664.41" font-size="11.8" text-anchor="end" fill="#000">630</text><line x1="49.5" y1="633.75" x2="53.5" y2="633.75" stroke="#222" stroke-width="0.8"/><line x1="434.9" y1="633.75" x2="430.9" y2="633.75" stroke="#222" stroke-width="0.8"/><text x="47.30" y="637.75" font-size="11.8" text-anchor="end" fill="#000">640</text><line x1="49.5" y1="607.09" x2="53.5" y2="607.09" stroke="#222" stroke-width="0.8"/><line x1="434.9" y1="607.09" x2="430.9" y2="607.09" stroke="#222" stroke-width="0.8"/><text x="47.30" y="611.09" font-size="11.8" text-anchor="end" fill="#000">650</text><line x1="49.5" y1="580.44" x2="53.5" y2="580.44" stroke="#222" stroke-width="0.8"/><line x1="434.9" y1="580.44" x2="430.9" y2="580.44" stroke="#222" stroke-width="0.8"/><text x="47.30" y="584.44" font-size="11.8" text-anchor="end" fill="#000">660</text><line x1="49.5" y1="553.78" x2="53.5" y2="553.78" stroke="#222" stroke-width="0.8"/><line x1="434.9" y1="553.78" x2="430.9" y2="553.78" stroke="#222" stroke-width="0.8"/><text x="47.30" y="557.78" font-size="11.8" text-anchor="end" fill="#000">670</text><line x1="49.5" y1="527.12" x2="53.5" y2="527.12" stroke="#222" stroke-width="0.8"/><line x1="434.9" y1="527.12" x2="430.9" y2="527.12" stroke="#222" stroke-width="0.8"/><text x="47.30" y="531.12" font-size="11.8" text-anchor="end" fill="#000">680</text><line x1="49.5" y1="500.46" x2="53.5" y2="500.46" stroke="#222" stroke-width="0.8"/><line x1="434.9" y1="500.46" x2="430.9" y2="500.46" stroke="#222" stroke-width="0.8"/><text x="47.30" y="504.46" font-size="11.8" text-anchor="end" fill="#000">690</text><line x1="49.5" y1="473.80" x2="53.5" y2="473.80" stroke="#222" stroke-width="0.8"/><line x1="434.9" y1="473.80" x2="430.9" y2="473.80" stroke="#222" stroke-width="0.8"/><text x="47.30" y="477.80" font-size="11.8" text-anchor="end" fill="#000">700</text><text x="242.20" y="464.20" font-size="13.6" text-anchor="middle" fill="#000">NDGI (Block 1)</text><text x="242.20" y="845.60" font-size="13.5" text-anchor="middle" fill="#000">Green wavelengths (nm)</text><text x="0" y="0" transform="translate(21.50,645.75) rotate(-90)" font-size="13.6" text-anchor="middle" fill="#000">Red wavelengths (nm)</text><rect x="449.20" y="473.8" width="19.20" height="343.90" fill="url(#jetgrad)"/><rect x="449.20" y="473.8" width="19.20" height="343.90" fill="none" stroke="#444" stroke-width="0.9"/><line x1="449.20" y1="817.70" x2="452.20" y2="817.70" stroke="#222" stroke-width="0.8"/><line x1="468.40" y1="817.70" x2="465.40" y2="817.70" stroke="#222" stroke-width="0.8"/><text x="470.90" y="821.80" font-size="11.8" fill="#000">0</text><line x1="449.20" y1="775.76" x2="452.20" y2="775.76" stroke="#222" stroke-width="0.8"/><line x1="468.40" y1="775.76" x2="465.40" y2="775.76" stroke="#222" stroke-width="0.8"/><text x="470.90" y="779.86" font-size="11.8" fill="#000">0.1</text><line x1="449.20" y1="733.82" x2="452.20" y2="733.82" stroke="#222" stroke-width="0.8"/><line x1="468.40" y1="733.82" x2="465.40" y2="733.82" stroke="#222" stroke-width="0.8"/><text x="470.90" y="737.92" font-size="11.8" fill="#000">0.2</text><line x1="449.20" y1="691.88" x2="452.20" y2="691.88" stroke="#222" stroke-width="0.8"/><line x1="468.40" y1="691.88" x2="465.40" y2="691.88" stroke="#222" stroke-width="0.8"/><text x="470.90" y="695.98" font-size="11.8" fill="#000">0.3</text><line x1="449.20" y1="649.94" x2="452.20" y2="649.94" stroke="#222" stroke-width="0.8"/><line x1="468.40" y1="649.94" x2="465.40" y2="649.94" stroke="#222" stroke-width="0.8"/><text x="470.90" y="654.04" font-size="11.8" fill="#000">0.4</text><line x1="449.20" y1="608.00" x2="452.20" y2="608.00" stroke="#222" stroke-width="0.8"/><line x1="468.40" y1="608.00" x2="465.40" y2="608.00" stroke="#222" stroke-width="0.8"/><text x="470.90" y="612.10" font-size="11.8" fill="#000">0.5</text><line x1="449.20" y1="566.07" x2="452.20" y2="566.07" stroke="#222" stroke-width="0.8"/><line x1="468.40" y1="566.07" x2="465.40" y2="566.07" stroke="#222" stroke-width="0.8"/><text x="470.90" y="570.17" font-size="11.8" fill="#000">0.6</text><line x1="449.20" y1="524.13" x2="452.20" y2="524.13" stroke="#222" stroke-width="0.8"/><line x1="468.40" y1="524.13" x2="465.40" y2="524.13" stroke="#222" stroke-width="0.8"/><text x="470.90" y="528.23" font-size="11.8" fill="#000">0.7</text><line x1="449.20" y1="482.19" x2="452.20" y2="482.19" stroke="#222" stroke-width="0.8"/><line x1="468.40" y1="482.19" x2="465.40" y2="482.19" stroke="#222" stroke-width="0.8"/><text x="470.90" y="486.29" font-size="11.8" fill="#000">0.8</text><rect x="123.20" y="770.60" width="8.6" height="8.6" rx="1" fill="#FFFFF2"/><rect x="124.60" y="772.00" width="5.8" height="5.8" fill="#000"/><defs><clipPath id="clip4"><rect x="577.5" y="474.2" width="385.90" height="344.20"/></clipPath></defs><g clip-path="url(#clip4)"><rect x="577.5" y="474.2" width="385.90" height="344.20" fill="#80FF80"/><path d="M576.00,472.00C576.00,472.00 576.00,488.60 576.00,488.60C576.00,488.60 585.77,487.14 595.53,486.65C605.30,486.16 621.57,485.77 634.59,485.67C647.61,485.57 660.64,486.06 673.66,486.06C686.68,486.06 702.95,485.67 712.72,485.67C722.48,485.67 721.70,485.57 732.25,486.06C742.80,486.55 763.53,487.85 776.00,488.60C788.47,489.35 795.38,489.90 807.06,490.55C818.75,491.21 837.01,492.35 846.12,492.51C855.24,492.67 855.24,491.21 861.75,491.53C868.26,491.86 878.03,493.48 885.19,494.46C892.35,495.44 899.35,496.09 904.72,497.39C910.09,498.69 917.41,500.65 917.41,502.27C917.41,503.90 910.25,505.20 904.72,507.16C899.18,509.11 885.84,512.04 884.21,513.99C882.58,515.95 894.46,517.25 894.95,518.88C895.44,520.50 887.79,522.13 887.14,523.76C886.49,525.39 890.72,526.52 891.05,528.64C891.37,530.76 890.72,533.69 889.09,536.45C887.47,539.22 880.30,543.13 881.28,545.24C882.26,547.36 888.44,548.07 894.95,549.15C901.46,550.22 915.79,550.55 920.34,551.69C924.90,552.83 921.65,554.62 922.30,555.98C922.95,557.35 924.90,558.43 924.25,559.89C923.60,561.36 916.76,563.31 918.39,564.77C920.02,566.24 932.71,567.38 934.02,568.68C935.32,569.98 924.58,571.45 926.20,572.59C927.83,573.73 937.27,574.54 943.78,575.52C950.29,576.49 965.27,578.45 965.27,578.45C965.27,578.45 965.27,472.00 965.27,472.00C965.27,472.00 576.00,472.00 576.00,472.00Z" fill="#00FFFF" stroke="#111" stroke-width="0.7" stroke-linejoin="round"/><path d="M951.59,583.33C951.59,582.55 965.27,580.98 965.27,580.98C965.27,580.98 965.27,585.67 965.27,585.67C965.27,585.67 951.59,584.11 951.59,583.33Z" fill="#00FFFF" stroke="#111" stroke-width="0.7" stroke-linejoin="round"/><path d="M921.32,594.07C919.69,592.61 926.69,591.14 934.02,590.16C941.34,589.19 965.27,588.21 965.27,588.21C965.27,588.21 965.27,600.91 965.27,600.91C965.27,600.91 951.11,600.09 943.78,598.95C936.46,597.81 922.95,595.54 921.32,594.07Z" fill="#00FFFF" stroke="#111" stroke-width="0.7" stroke-linejoin="round"/><path d="M934.02,612.62C934.02,611.88 938.57,611.45 943.78,611.06C948.99,610.67 965.27,610.28 965.27,610.28C965.27,610.28 965.27,617.51 965.27,617.51C965.27,617.51 948.99,616.37 943.78,615.55C938.57,614.74 934.02,613.37 934.02,612.62Z" fill="#00FFFF" stroke="#111" stroke-width="0.7" stroke-linejoin="round"/><path d="M576.00,472.00C576.00,472.00 576.00,481.77 576.00,481.77C576.00,481.77 589.02,480.69 595.53,480.20C602.04,479.71 605.30,479.23 615.06,478.84C624.83,478.45 641.10,478.18 654.12,477.86C667.15,477.53 681.79,477.14 693.19,476.88C704.58,476.62 715.97,476.20 722.48,476.30C728.99,476.39 723.33,476.95 732.25,477.47C741.17,477.99 763.53,478.87 776.00,479.42C788.47,479.98 795.38,480.46 807.06,480.79C818.75,481.11 833.10,481.05 846.12,481.38C859.15,481.70 872.17,482.19 885.19,482.74C898.21,483.30 910.90,483.88 924.25,484.70C937.60,485.51 965.27,487.62 965.27,487.62C965.27,487.62 965.27,472.00 965.27,472.00C965.27,472.00 576.00,472.00 576.00,472.00Z" fill="#0080FF" stroke="#111" stroke-width="0.7" stroke-linejoin="round"/><path d="M904.72,473.56C904.72,473.56 917.74,475.19 924.25,475.91C930.76,476.62 936.95,477.21 943.78,477.86C950.62,478.51 965.27,479.81 965.27,479.81C965.27,479.81 965.27,473.56 965.27,473.56C965.27,473.56 904.72,473.56 904.72,473.56Z" fill="#0000FF" stroke="#111" stroke-width="0.7" stroke-linejoin="round"/><path d="M601.39,502.86C601.72,501.56 604.65,500.16 607.25,499.34C609.85,498.53 613.43,497.98 617.02,497.98C620.60,497.98 626.13,498.53 628.73,499.34C631.34,500.16 632.64,501.62 632.64,502.86C632.64,504.10 631.34,505.82 628.73,506.77C626.13,507.71 620.92,508.46 617.02,508.52C613.11,508.59 607.90,508.10 605.30,507.16C602.69,506.21 601.07,504.16 601.39,502.86Z" fill="#FFFF00" stroke="#111" stroke-width="0.7" stroke-linejoin="round"/><path d="M576.00,558.91C576.00,558.91 588.70,557.94 591.62,556.96C594.55,555.98 591.30,554.03 593.58,553.05C595.86,552.08 600.09,551.43 605.30,551.10C610.51,550.78 620.27,550.87 624.83,551.10C629.39,551.33 630.85,551.49 632.64,552.47C634.43,553.45 633.78,555.72 635.57,556.96C637.36,558.20 643.06,559.08 643.38,559.89C643.71,560.70 638.66,561.03 637.52,561.84C636.38,562.66 635.41,564.06 636.55,564.77C637.69,565.49 638.17,565.75 644.36,566.14C650.54,566.53 665.52,566.92 673.66,567.12C681.79,567.31 686.68,567.21 693.19,567.31C699.70,567.41 706.86,567.48 712.72,567.70C718.58,567.93 724.60,568.19 728.34,568.68C732.09,569.17 735.18,570.14 735.18,570.63C735.18,571.12 735.34,571.28 728.34,571.61C721.35,571.93 693.19,572.26 693.19,572.59C693.19,572.91 719.88,572.91 728.34,573.56C736.81,574.21 738.43,575.68 743.97,576.49C749.50,577.31 761.55,577.79 761.55,578.45C761.55,579.10 746.90,579.58 743.97,580.40C741.04,581.21 741.53,582.35 743.97,583.33C746.41,584.30 758.94,585.44 758.62,586.26C758.29,587.07 748.04,587.07 742.02,588.21C735.99,589.35 727.37,592.12 722.48,593.09C717.60,594.07 717.60,593.74 712.72,594.07C707.84,594.40 699.70,595.05 693.19,595.05C686.68,595.05 678.54,594.14 673.66,594.07C668.77,594.01 664.22,594.33 663.89,594.66C663.57,594.98 666.82,595.80 671.70,596.02C676.59,596.25 686.35,596.19 693.19,596.02C700.02,595.86 706.21,594.72 712.72,595.05C719.23,595.37 725.74,597.00 732.25,597.98C738.76,598.95 744.49,599.60 751.78,600.91C759.07,602.21 770.04,604.81 776.00,605.79C781.96,606.77 787.53,606.28 787.53,606.77C787.53,607.25 780.34,608.23 776.01,608.72C771.68,609.21 766.56,609.04 761.55,609.70C756.53,610.35 745.92,611.55 745.92,612.62C745.92,613.70 756.53,615.33 761.55,616.14C766.56,616.95 768.41,616.79 776.00,617.51C783.59,618.22 796.03,618.97 807.06,620.44C818.10,621.90 833.43,625.81 842.22,626.30C851.01,626.79 853.94,623.04 859.80,623.37C865.66,623.69 873.14,626.46 877.38,628.25C881.61,630.04 882.26,631.83 885.19,634.11C888.12,636.39 894.30,639.94 894.95,641.92C895.60,643.91 889.42,644.69 889.09,646.02C888.77,647.35 894.30,648.35 893.00,649.91C891.70,651.46 880.63,653.75 881.28,655.38C881.93,657.00 893.98,657.98 896.91,659.67C899.84,661.36 897.23,663.25 898.86,665.53C900.49,667.81 907.32,671.23 906.67,673.34C906.02,675.46 899.84,676.44 894.95,678.23C890.07,680.02 882.91,682.62 877.38,684.09C871.84,685.55 866.96,686.79 861.75,687.02C856.54,687.24 851.98,685.52 846.12,685.45C840.27,685.39 833.10,686.10 826.59,686.62C820.08,687.15 813.57,688.02 807.06,688.58C800.55,689.13 794.04,689.55 787.53,689.95C781.02,690.34 777.21,690.60 768.00,690.92C758.79,691.25 744.72,691.57 732.25,691.90C719.78,692.22 706.21,692.55 693.19,692.88C680.17,693.20 667.15,693.53 654.12,693.85C641.10,694.18 628.08,694.83 615.06,694.83C602.04,694.83 576.00,693.85 576.00,693.85C576.00,693.85 576.00,558.91 576.00,558.91Z" fill="#FFFF00" stroke="#111" stroke-width="0.7" stroke-linejoin="round"/><path d="M575.02,562.82C575.02,562.82 587.72,563.70 587.72,564.19C587.72,564.68 575.02,565.75 575.02,565.75C575.02,565.75 575.02,562.82 575.02,562.82Z" fill="#80FF80" stroke="#111" stroke-width="0.7" stroke-linejoin="round"/><path d="M651.00,559.11C651.75,558.52 659.24,558.52 659.98,559.11C660.73,559.70 656.99,562.62 655.49,562.62C653.99,562.62 650.25,559.70 651.00,559.11Z" fill="#FFFF00" stroke="#111" stroke-width="0.7" stroke-linejoin="round"/><path d="M576.00,622.56C576.00,622.56 589.02,621.65 595.53,621.39C602.04,621.13 609.85,620.64 615.06,621.00C620.27,621.36 622.88,622.14 626.78,623.54C630.69,624.94 635.57,627.61 638.50,629.40C641.43,631.19 641.76,633.24 644.36,634.28C646.96,635.32 650.87,635.16 654.12,635.65C657.38,636.14 660.64,636.69 663.89,637.21C667.15,637.73 670.40,638.29 673.66,638.77C676.91,639.26 680.17,639.68 683.42,640.14C686.68,640.60 689.93,641.41 693.19,641.51C696.44,641.61 699.70,640.79 702.95,640.73C706.21,640.66 708.81,640.82 712.72,641.12C716.62,641.41 726.39,642.09 726.39,642.48C726.39,642.88 717.60,643.20 712.72,643.46C707.84,643.72 702.30,643.46 697.09,644.05C691.89,644.63 686.03,646.39 681.47,646.98C676.91,647.56 670.08,647.40 669.75,647.56C669.42,647.73 675.61,647.73 679.52,647.95C683.42,648.18 687.65,648.60 693.19,648.93C698.72,649.26 706.70,649.52 712.72,649.91C718.74,650.30 729.32,650.72 729.32,651.27C729.32,651.83 718.74,652.71 712.72,653.23C706.70,653.75 699.70,653.98 693.19,654.40C686.68,654.82 678.21,655.47 673.66,655.77C669.10,656.06 662.59,655.90 665.84,656.16C669.10,656.42 685.38,657.00 693.19,657.33C701.00,657.65 706.21,657.88 712.72,658.11C719.23,658.34 728.02,658.11 732.25,658.70C736.48,659.28 736.81,660.32 738.11,661.62C739.41,662.93 739.25,664.55 740.06,666.51C740.88,668.46 743.32,671.55 742.99,673.34C742.67,675.13 741.53,676.11 738.11,677.25C734.69,678.39 729.97,679.37 722.48,680.18C715.00,680.99 701.33,681.48 693.19,682.13C685.05,682.78 680.17,683.43 673.66,684.09C667.15,684.74 660.64,685.39 654.12,686.04C647.61,686.69 641.10,687.50 634.59,687.99C628.08,688.48 621.57,688.81 615.06,688.97C608.55,689.13 602.04,688.97 595.53,688.97C589.02,688.97 576.00,688.97 576.00,688.97C576.00,688.97 576.00,622.56 576.00,622.56Z" fill="#FF8F00" stroke="#111" stroke-width="0.7" stroke-linejoin="round"/><path d="M576.00,700.69C576.00,700.69 589.51,703.23 595.53,704.59C601.55,705.96 612.13,707.43 612.13,708.89C612.13,710.36 601.55,712.31 595.53,713.38C589.51,714.46 576.00,715.34 576.00,715.34C576.00,715.34 576.00,700.69 576.00,700.69Z" fill="#00FFFF" stroke="#111" stroke-width="0.7" stroke-linejoin="round"/><path d="M622.88,708.89C622.88,707.75 629.39,706.35 634.59,705.57C639.80,704.79 644.36,704.37 654.12,704.20C663.89,704.04 680.17,704.69 693.19,704.59C706.21,704.50 722.48,704.43 732.25,703.62C742.02,702.80 744.49,700.69 751.78,699.71C759.07,698.73 766.79,698.31 776.00,697.76C785.21,697.20 795.38,696.81 807.06,696.39C818.75,695.97 833.10,695.64 846.12,695.22C859.15,694.80 872.17,694.40 885.19,693.85C898.21,693.30 910.90,692.71 924.25,691.90C937.60,691.08 965.27,688.97 965.27,688.97C965.27,688.97 965.27,729.01 965.27,729.01C965.27,729.01 937.60,727.71 924.25,727.05C910.90,726.40 898.21,725.75 885.19,725.10C872.17,724.45 859.15,723.70 846.12,723.15C833.10,722.60 820.08,722.43 807.06,721.78C794.04,721.13 777.21,719.99 768.00,719.24C758.79,718.49 757.74,718.10 751.78,717.29C745.82,716.48 742.02,715.01 732.25,714.36C722.48,713.71 706.21,713.38 693.19,713.38C680.17,713.38 663.89,714.52 654.12,714.36C644.36,714.20 639.80,713.32 634.59,712.41C629.39,711.49 622.88,710.03 622.88,708.89Z" fill="#00FFFF" stroke="#111" stroke-width="0.7" stroke-linejoin="round"/><path d="M887.14,708.89C887.14,706.94 898.53,705.24 904.72,703.62C910.90,701.99 917.74,700.26 924.25,699.12C930.76,697.99 936.95,697.33 943.78,696.78C950.62,696.23 965.27,695.80 965.27,695.80C965.27,695.80 965.27,723.15 965.27,723.15C965.27,723.15 950.62,721.85 943.78,721.20C936.95,720.54 930.76,720.22 924.25,719.24C917.74,718.27 910.90,717.06 904.72,715.34C898.53,713.61 887.14,710.84 887.14,708.89Z" fill="#0080FF" stroke="#111" stroke-width="0.7" stroke-linejoin="round"/><path d="M576.00,721.20C576.00,721.20 602.04,720.22 615.06,720.22C628.08,720.22 641.10,720.87 654.12,721.20C667.15,721.52 680.17,721.85 693.19,722.17C706.21,722.50 718.45,722.66 732.25,723.15C746.05,723.64 763.53,724.45 776.00,725.10C788.47,725.75 795.38,726.57 807.06,727.05C818.75,727.54 833.10,727.54 846.12,728.03C859.15,728.52 872.17,729.33 885.19,729.98C898.21,730.64 910.90,731.12 924.25,731.94C937.60,732.75 965.27,734.87 965.27,734.87C965.27,734.87 965.27,821.78 965.27,821.78C965.27,821.78 576.00,821.78 576.00,821.78C576.00,821.78 576.00,721.20 576.00,721.20Z" fill="#FFFF00" stroke="#111" stroke-width="0.7" stroke-linejoin="round"/><path d="M576.00,725.10C576.00,725.10 602.04,724.94 615.06,725.10C628.08,725.26 641.10,725.59 654.12,726.08C667.15,726.57 680.17,727.54 693.19,728.03C706.21,728.52 718.45,728.52 732.25,729.01C746.05,729.50 763.53,730.08 776.00,730.96C788.47,731.84 795.38,733.53 807.06,734.28C818.75,735.03 833.10,735.03 846.12,735.45C859.15,735.88 872.17,736.27 885.19,736.82C898.21,737.37 910.90,737.80 924.25,738.77C937.60,739.75 965.27,742.68 965.27,742.68C965.27,742.68 965.27,821.78 965.27,821.78C965.27,821.78 689.68,819.07 689.68,819.07C689.68,819.07 689.87,813.79 688.50,812.03C687.14,810.28 684.60,809.89 681.47,808.52C678.35,807.15 673.66,805.59 669.75,803.83C665.85,802.07 660.38,799.92 658.03,797.97C655.69,796.02 656.67,793.87 655.69,792.11C654.71,790.35 654.71,788.99 652.17,787.42C649.64,785.86 645.34,784.30 640.46,782.74C635.57,781.17 628.74,779.42 622.88,778.05C617.02,776.68 610.96,775.70 605.30,774.53C599.63,773.36 589.87,772.19 588.89,771.02C587.91,769.85 594.75,768.87 599.44,767.50C604.13,766.13 612.13,764.38 617.02,762.81C621.90,761.25 626.59,759.49 628.74,758.13C630.88,756.76 630.88,755.88 629.91,754.61C628.93,753.34 627.96,752.07 622.88,750.51C617.80,748.95 607.06,746.80 599.44,745.23C591.82,743.67 577.17,741.13 577.17,741.13C577.17,741.13 576.00,725.10 576.00,725.10Z" fill="#FF8F00" stroke="#111" stroke-width="0.7" stroke-linejoin="round"/><path d="M576.00,729.98C576.00,729.98 602.04,729.43 615.06,729.59C628.08,729.76 641.10,730.41 654.12,730.96C667.15,731.51 680.17,732.26 693.19,732.91C706.21,733.57 722.48,734.05 732.25,734.87C742.02,735.68 744.49,736.82 751.78,737.80C759.07,738.77 766.79,739.59 776.00,740.73C785.21,741.87 795.38,743.49 807.06,744.63C818.75,745.77 833.10,746.91 846.12,747.56C859.15,748.21 877.70,747.73 885.19,748.54C892.67,749.35 887.47,750.17 891.05,752.45C894.63,754.72 907.65,760.10 906.67,762.21C905.70,764.33 895.28,764.33 885.19,765.14C875.10,765.95 859.15,766.44 846.12,767.09C833.10,767.74 819.11,768.23 807.06,769.05C795.02,769.86 773.86,771.16 773.86,771.98C773.86,772.79 795.02,773.28 807.06,773.93C819.11,774.58 833.10,775.39 846.12,775.88C859.15,776.37 872.17,776.53 885.19,776.86C898.21,777.18 910.90,777.51 924.25,777.84C937.60,778.16 965.27,778.81 965.27,778.81C965.27,778.81 965.27,821.78 965.27,821.78C965.27,821.78 743.97,821.78 743.97,821.78C743.97,821.78 743.97,812.67 742.02,810.06C740.06,807.46 738.76,807.13 732.25,806.16C725.74,805.18 709.01,804.79 702.95,804.20C696.90,803.62 697.55,803.29 695.92,802.64C694.30,801.99 694.04,801.87 693.19,800.32C692.35,798.76 691.82,795.24 690.85,793.28C689.87,791.33 689.87,789.87 687.33,788.60C684.79,787.33 680.50,786.64 675.61,785.67C670.73,784.69 663.89,783.81 658.03,782.74C652.17,781.66 646.32,780.59 640.46,779.22C634.60,777.85 628.15,775.90 622.88,774.53C617.60,773.17 607.84,772.58 608.81,771.02C609.79,769.45 622.49,766.82 628.74,765.16C634.99,763.50 639.48,762.42 646.32,761.06C653.15,759.69 664.87,758.03 669.75,756.95C674.64,755.88 679.52,755.59 675.61,754.61C671.71,753.63 655.10,752.46 646.32,751.09C637.53,749.73 630.69,748.16 622.88,746.41C615.06,744.65 607.06,742.31 599.44,740.55C591.82,738.79 577.17,735.86 577.17,735.86C577.17,735.86 576.00,729.98 576.00,729.98Z" fill="#FF1000" stroke="#111" stroke-width="0.7" stroke-linejoin="round"/><path d="M904.72,772.95C904.72,772.30 917.74,770.74 924.25,770.02C930.76,769.31 936.95,769.08 943.78,768.66C950.62,768.23 965.27,767.48 965.27,767.48C965.27,767.48 965.27,774.91 965.27,774.91C965.27,774.91 950.62,774.68 943.78,774.52C936.95,774.35 930.76,774.19 924.25,773.93C917.74,773.67 904.72,773.60 904.72,772.95Z" fill="#FFFF00" stroke="#111" stroke-width="0.7" stroke-linejoin="round"/><path d="M773.86,819.83C773.86,819.83 777.44,817.13 779.72,816.51C782.00,815.89 785.42,815.56 787.53,816.12C789.65,816.67 792.41,819.83 792.41,819.83C792.41,819.83 773.86,819.83 773.86,819.83Z" fill="#960000" stroke="#111" stroke-width="0.7" stroke-linejoin="round"/><path d="M928.16,804.20C929.13,800.95 933.36,802.41 935.97,802.25C938.57,802.09 941.18,802.74 943.78,803.23C946.39,803.71 948.01,805.34 951.59,805.18C955.17,805.02 965.27,802.25 965.27,802.25C965.27,802.25 965.27,821.78 965.27,821.78C965.27,821.78 930.11,821.78 930.11,821.78C930.11,821.78 927.18,807.46 928.16,804.20Z" fill="#FF8F00" stroke="#111" stroke-width="0.7" stroke-linejoin="round"/><path d="M954.52,813.97C955.34,812.02 958.59,810.78 960.38,810.06C962.17,809.35 965.27,809.67 965.27,809.67C965.27,809.67 965.27,821.78 965.27,821.78C965.27,821.78 955.50,821.78 955.50,821.78C955.50,821.78 953.71,815.92 954.52,813.97Z" fill="#FFFF00" stroke="#111" stroke-width="0.7" stroke-linejoin="round"/><path d="M577.17,745.82C577.17,745.82 588.50,747.19 593.58,748.16C598.66,749.14 604.61,750.41 607.64,751.68C610.67,752.95 611.74,754.32 611.74,755.78C611.74,757.25 610.67,759.01 607.64,760.47C604.61,761.93 598.66,763.40 593.58,764.57C588.50,765.74 577.17,767.50 577.17,767.50C577.17,767.50 577.17,745.82 577.17,745.82Z" fill="#80FF80" stroke="#111" stroke-width="0.7" stroke-linejoin="round"/><path d="M577.17,749.92C577.17,749.92 583.13,751.19 585.38,752.27C587.62,753.34 590.65,754.90 590.65,756.37C590.65,757.83 587.62,759.79 585.38,761.06C583.13,762.33 577.17,763.99 577.17,763.99C577.17,763.99 577.17,749.92 577.17,749.92Z" fill="#00FFFF" stroke="#111" stroke-width="0.7" stroke-linejoin="round"/><path d="M577.17,773.95C577.17,773.95 587.91,775.41 593.58,776.29C599.24,777.17 605.30,778.15 611.16,779.22C617.02,780.29 624.44,781.56 628.74,782.74C633.03,783.91 634.99,784.88 636.94,786.25C638.89,787.62 639.28,789.18 640.46,790.94C641.63,792.70 642.02,795.04 643.97,796.80C645.92,798.56 649.05,799.92 652.17,801.49C655.30,803.05 660.18,804.42 662.72,806.17C665.26,807.93 666.53,809.89 667.41,812.03C668.29,814.18 668.00,819.07 668.00,819.07C668.00,819.07 577.17,819.07 577.17,819.07C577.17,819.07 577.17,773.95 577.17,773.95Z" fill="#80FF80" stroke="#111" stroke-width="0.7" stroke-linejoin="round"/><path d="M577.17,776.29C577.17,776.29 592.80,778.15 599.44,779.22C606.08,780.29 612.72,781.37 617.02,782.74C621.31,784.10 623.27,785.86 625.22,787.42C627.17,788.99 627.37,790.55 628.74,792.11C630.10,793.67 631.47,795.24 633.42,796.80C635.38,798.36 638.31,799.73 640.46,801.49C642.60,803.25 644.95,805.59 646.32,807.35C647.68,809.10 648.17,810.08 648.66,812.03C649.15,813.99 649.25,819.07 649.25,819.07C649.25,819.07 577.17,819.07 577.17,819.07C577.17,819.07 577.17,776.29 577.17,776.29Z" fill="#00FFFF" stroke="#111" stroke-width="0.7" stroke-linejoin="round"/><path d="M577.17,778.05C577.17,778.05 588.89,779.42 593.58,780.39C598.27,781.37 601.98,782.54 605.30,783.91C608.62,785.28 611.35,787.03 613.50,788.60C615.65,790.16 616.24,791.53 618.19,793.28C620.14,795.04 623.07,797.39 625.22,799.14C627.37,800.90 629.13,802.07 631.08,803.83C633.03,805.59 635.47,807.15 636.94,809.69C638.40,812.23 639.87,819.07 639.87,819.07C639.87,819.07 577.17,819.07 577.17,819.07C577.17,819.07 577.17,778.05 577.17,778.05Z" fill="#0080FF" stroke="#111" stroke-width="0.7" stroke-linejoin="round"/><path d="M577.17,781.56C577.17,781.56 584.40,782.74 587.72,783.91C591.04,785.08 594.75,787.03 597.09,788.60C599.44,790.16 599.83,791.92 601.78,793.28C603.74,794.65 606.27,795.43 608.81,796.80C611.35,798.17 614.67,799.73 617.02,801.49C619.36,803.25 620.92,805.59 622.88,807.35C624.83,809.10 627.37,810.08 628.74,812.03C630.10,813.99 631.08,819.07 631.08,819.07C631.08,819.07 577.17,819.07 577.17,819.07C577.17,819.07 577.17,781.56 577.17,781.56Z" fill="#0000FF" stroke="#111" stroke-width="0.7" stroke-linejoin="round"/><path d="M577.17,793.28C577.17,793.28 582.64,795.04 585.38,796.21C588.11,797.39 590.84,798.85 593.58,800.32C596.31,801.78 599.44,803.44 601.78,805.00C604.13,806.57 605.69,808.13 607.64,809.69C609.60,811.25 612.13,812.82 613.50,814.38C614.87,815.94 615.85,819.07 615.85,819.07C615.85,819.07 577.17,819.07 577.17,819.07C577.17,819.07 577.17,793.28 577.17,793.28Z" fill="#00008F" stroke="#111" stroke-width="0.7" stroke-linejoin="round"/></g><rect x="577.5" y="474.2" width="385.90" height="344.20" fill="none" stroke="#444" stroke-width="0.9"/><line x1="609.00" y1="818.4" x2="609.00" y2="814.4" stroke="#222" stroke-width="0.8"/><line x1="609.00" y1="474.2" x2="609.00" y2="478.2" stroke="#222" stroke-width="0.8"/><text x="609.00" y="831.90" font-size="11.8" text-anchor="middle" fill="#000">525</text><line x1="648.38" y1="818.4" x2="648.38" y2="814.4" stroke="#222" stroke-width="0.8"/><line x1="648.38" y1="474.2" x2="648.38" y2="478.2" stroke="#222" stroke-width="0.8"/><text x="648.38" y="831.90" font-size="11.8" text-anchor="middle" fill="#000">530</text><line x1="687.76" y1="818.4" x2="687.76" y2="814.4" stroke="#222" stroke-width="0.8"/><line x1="687.76" y1="474.2" x2="687.76" y2="478.2" stroke="#222" stroke-width="0.8"/><text x="687.76" y="831.90" font-size="11.8" text-anchor="middle" fill="#000">535</text><line x1="727.13" y1="818.4" x2="727.13" y2="814.4" stroke="#222" stroke-width="0.8"/><line x1="727.13" y1="474.2" x2="727.13" y2="478.2" stroke="#222" stroke-width="0.8"/><text x="727.13" y="831.90" font-size="11.8" text-anchor="middle" fill="#000">540</text><line x1="766.51" y1="818.4" x2="766.51" y2="814.4" stroke="#222" stroke-width="0.8"/><line x1="766.51" y1="474.2" x2="766.51" y2="478.2" stroke="#222" stroke-width="0.8"/><text x="766.51" y="831.90" font-size="11.8" text-anchor="middle" fill="#000">545</text><line x1="805.89" y1="818.4" x2="805.89" y2="814.4" stroke="#222" stroke-width="0.8"/><line x1="805.89" y1="474.2" x2="805.89" y2="478.2" stroke="#222" stroke-width="0.8"/><text x="805.89" y="831.90" font-size="11.8" text-anchor="middle" fill="#000">550</text><line x1="845.27" y1="818.4" x2="845.27" y2="814.4" stroke="#222" stroke-width="0.8"/><line x1="845.27" y1="474.2" x2="845.27" y2="478.2" stroke="#222" stroke-width="0.8"/><text x="845.27" y="831.90" font-size="11.8" text-anchor="middle" fill="#000">555</text><line x1="884.64" y1="818.4" x2="884.64" y2="814.4" stroke="#222" stroke-width="0.8"/><line x1="884.64" y1="474.2" x2="884.64" y2="478.2" stroke="#222" stroke-width="0.8"/><text x="884.64" y="831.90" font-size="11.8" text-anchor="middle" fill="#000">560</text><line x1="924.02" y1="818.4" x2="924.02" y2="814.4" stroke="#222" stroke-width="0.8"/><line x1="924.02" y1="474.2" x2="924.02" y2="478.2" stroke="#222" stroke-width="0.8"/><text x="924.02" y="831.90" font-size="11.8" text-anchor="middle" fill="#000">565</text><line x1="963.40" y1="818.4" x2="963.40" y2="814.4" stroke="#222" stroke-width="0.8"/><line x1="963.40" y1="474.2" x2="963.40" y2="478.2" stroke="#222" stroke-width="0.8"/><text x="963.40" y="831.90" font-size="11.8" text-anchor="middle" fill="#000">570</text><line x1="577.5" y1="794.39" x2="581.5" y2="794.39" stroke="#222" stroke-width="0.8"/><line x1="963.4" y1="794.39" x2="959.4" y2="794.39" stroke="#222" stroke-width="0.8"/><text x="575.30" y="798.39" font-size="11.8" text-anchor="end" fill="#000">580</text><line x1="577.5" y1="767.70" x2="581.5" y2="767.70" stroke="#222" stroke-width="0.8"/><line x1="963.4" y1="767.70" x2="959.4" y2="767.70" stroke="#222" stroke-width="0.8"/><text x="575.30" y="771.70" font-size="11.8" text-anchor="end" fill="#000">590</text><line x1="577.5" y1="741.02" x2="581.5" y2="741.02" stroke="#222" stroke-width="0.8"/><line x1="963.4" y1="741.02" x2="959.4" y2="741.02" stroke="#222" stroke-width="0.8"/><text x="575.30" y="745.02" font-size="11.8" text-anchor="end" fill="#000">600</text><line x1="577.5" y1="714.34" x2="581.5" y2="714.34" stroke="#222" stroke-width="0.8"/><line x1="963.4" y1="714.34" x2="959.4" y2="714.34" stroke="#222" stroke-width="0.8"/><text x="575.30" y="718.34" font-size="11.8" text-anchor="end" fill="#000">610</text><line x1="577.5" y1="687.66" x2="581.5" y2="687.66" stroke="#222" stroke-width="0.8"/><line x1="963.4" y1="687.66" x2="959.4" y2="687.66" stroke="#222" stroke-width="0.8"/><text x="575.30" y="691.66" font-size="11.8" text-anchor="end" fill="#000">620</text><line x1="577.5" y1="660.98" x2="581.5" y2="660.98" stroke="#222" stroke-width="0.8"/><line x1="963.4" y1="660.98" x2="959.4" y2="660.98" stroke="#222" stroke-width="0.8"/><text x="575.30" y="664.98" font-size="11.8" text-anchor="end" fill="#000">630</text><line x1="577.5" y1="634.29" x2="581.5" y2="634.29" stroke="#222" stroke-width="0.8"/><line x1="963.4" y1="634.29" x2="959.4" y2="634.29" stroke="#222" stroke-width="0.8"/><text x="575.30" y="638.29" font-size="11.8" text-anchor="end" fill="#000">640</text><line x1="577.5" y1="607.61" x2="581.5" y2="607.61" stroke="#222" stroke-width="0.8"/><line x1="963.4" y1="607.61" x2="959.4" y2="607.61" stroke="#222" stroke-width="0.8"/><text x="575.30" y="611.61" font-size="11.8" text-anchor="end" fill="#000">650</text><line x1="577.5" y1="580.93" x2="581.5" y2="580.93" stroke="#222" stroke-width="0.8"/><line x1="963.4" y1="580.93" x2="959.4" y2="580.93" stroke="#222" stroke-width="0.8"/><text x="575.30" y="584.93" font-size="11.8" text-anchor="end" fill="#000">660</text><line x1="577.5" y1="554.25" x2="581.5" y2="554.25" stroke="#222" stroke-width="0.8"/><line x1="963.4" y1="554.25" x2="959.4" y2="554.25" stroke="#222" stroke-width="0.8"/><text x="575.30" y="558.25" font-size="11.8" text-anchor="end" fill="#000">670</text><line x1="577.5" y1="527.56" x2="581.5" y2="527.56" stroke="#222" stroke-width="0.8"/><line x1="963.4" y1="527.56" x2="959.4" y2="527.56" stroke="#222" stroke-width="0.8"/><text x="575.30" y="531.56" font-size="11.8" text-anchor="end" fill="#000">680</text><line x1="577.5" y1="500.88" x2="581.5" y2="500.88" stroke="#222" stroke-width="0.8"/><line x1="963.4" y1="500.88" x2="959.4" y2="500.88" stroke="#222" stroke-width="0.8"/><text x="575.30" y="504.88" font-size="11.8" text-anchor="end" fill="#000">690</text><line x1="577.5" y1="474.20" x2="581.5" y2="474.20" stroke="#222" stroke-width="0.8"/><line x1="963.4" y1="474.20" x2="959.4" y2="474.20" stroke="#222" stroke-width="0.8"/><text x="575.30" y="478.20" font-size="11.8" text-anchor="end" fill="#000">700</text><text x="770.45" y="464.80" font-size="13.6" text-anchor="middle" fill="#000">NDGI (Block 2)</text><text x="770.45" y="846.70" font-size="13.5" text-anchor="middle" fill="#000">Green wavelengths (nm)</text><text x="0" y="0" transform="translate(549.50,646.30) rotate(-90)" font-size="13.6" text-anchor="middle" fill="#000">Red wavelengths (nm)</text><rect x="977.70" y="474.2" width="19.20" height="344.20" fill="url(#jetgrad)"/><rect x="977.70" y="474.2" width="19.20" height="344.20" fill="none" stroke="#444" stroke-width="0.9"/><line x1="977.70" y1="818.40" x2="980.70" y2="818.40" stroke="#222" stroke-width="0.8"/><line x1="996.90" y1="818.40" x2="993.90" y2="818.40" stroke="#222" stroke-width="0.8"/><text x="999.40" y="822.50" font-size="11.8" fill="#000">0</text><line x1="977.70" y1="776.42" x2="980.70" y2="776.42" stroke="#222" stroke-width="0.8"/><line x1="996.90" y1="776.42" x2="993.90" y2="776.42" stroke="#222" stroke-width="0.8"/><text x="999.40" y="780.52" font-size="11.8" fill="#000">0.1</text><line x1="977.70" y1="734.45" x2="980.70" y2="734.45" stroke="#222" stroke-width="0.8"/><line x1="996.90" y1="734.45" x2="993.90" y2="734.45" stroke="#222" stroke-width="0.8"/><text x="999.40" y="738.55" font-size="11.8" fill="#000">0.2</text><line x1="977.70" y1="692.47" x2="980.70" y2="692.47" stroke="#222" stroke-width="0.8"/><line x1="996.90" y1="692.47" x2="993.90" y2="692.47" stroke="#222" stroke-width="0.8"/><text x="999.40" y="696.57" font-size="11.8" fill="#000">0.3</text><line x1="977.70" y1="650.50" x2="980.70" y2="650.50" stroke="#222" stroke-width="0.8"/><line x1="996.90" y1="650.50" x2="993.90" y2="650.50" stroke="#222" stroke-width="0.8"/><text x="999.40" y="654.60" font-size="11.8" fill="#000">0.4</text><line x1="977.70" y1="608.52" x2="980.70" y2="608.52" stroke="#222" stroke-width="0.8"/><line x1="996.90" y1="608.52" x2="993.90" y2="608.52" stroke="#222" stroke-width="0.8"/><text x="999.40" y="612.62" font-size="11.8" fill="#000">0.5</text><line x1="977.70" y1="566.55" x2="980.70" y2="566.55" stroke="#222" stroke-width="0.8"/><line x1="996.90" y1="566.55" x2="993.90" y2="566.55" stroke="#222" stroke-width="0.8"/><text x="999.40" y="570.65" font-size="11.8" fill="#000">0.6</text><line x1="977.70" y1="524.57" x2="980.70" y2="524.57" stroke="#222" stroke-width="0.8"/><line x1="996.90" y1="524.57" x2="993.90" y2="524.57" stroke="#222" stroke-width="0.8"/><text x="999.40" y="528.67" font-size="11.8" fill="#000">0.7</text><line x1="977.70" y1="482.60" x2="980.70" y2="482.60" stroke="#222" stroke-width="0.8"/><line x1="996.90" y1="482.60" x2="993.90" y2="482.60" stroke="#222" stroke-width="0.8"/><text x="999.40" y="486.70" font-size="11.8" fill="#000">0.8</text><rect x="651.60" y="771.30" width="8.6" height="8.6" rx="1" fill="#FFFFF2"/><rect x="653.00" y="772.70" width="5.8" height="5.8" fill="#000"/><text x="503.3" y="436.0" font-size="26.5" fill="#111">(</text><text x="510.8" y="435.0" font-size="24" font-weight="bold" fill="#111">a</text><text x="522.3" y="436.0" font-size="26.5" fill="#111">)</text><text x="502.3" y="881.2" font-size="26.5" fill="#111">(</text><text x="509.8" y="880.2" font-size="24" font-weight="bold" fill="#111">b</text><text x="522.3" y="881.2" font-size="26.5" fill="#111">)</text></svg>
</body></html>
